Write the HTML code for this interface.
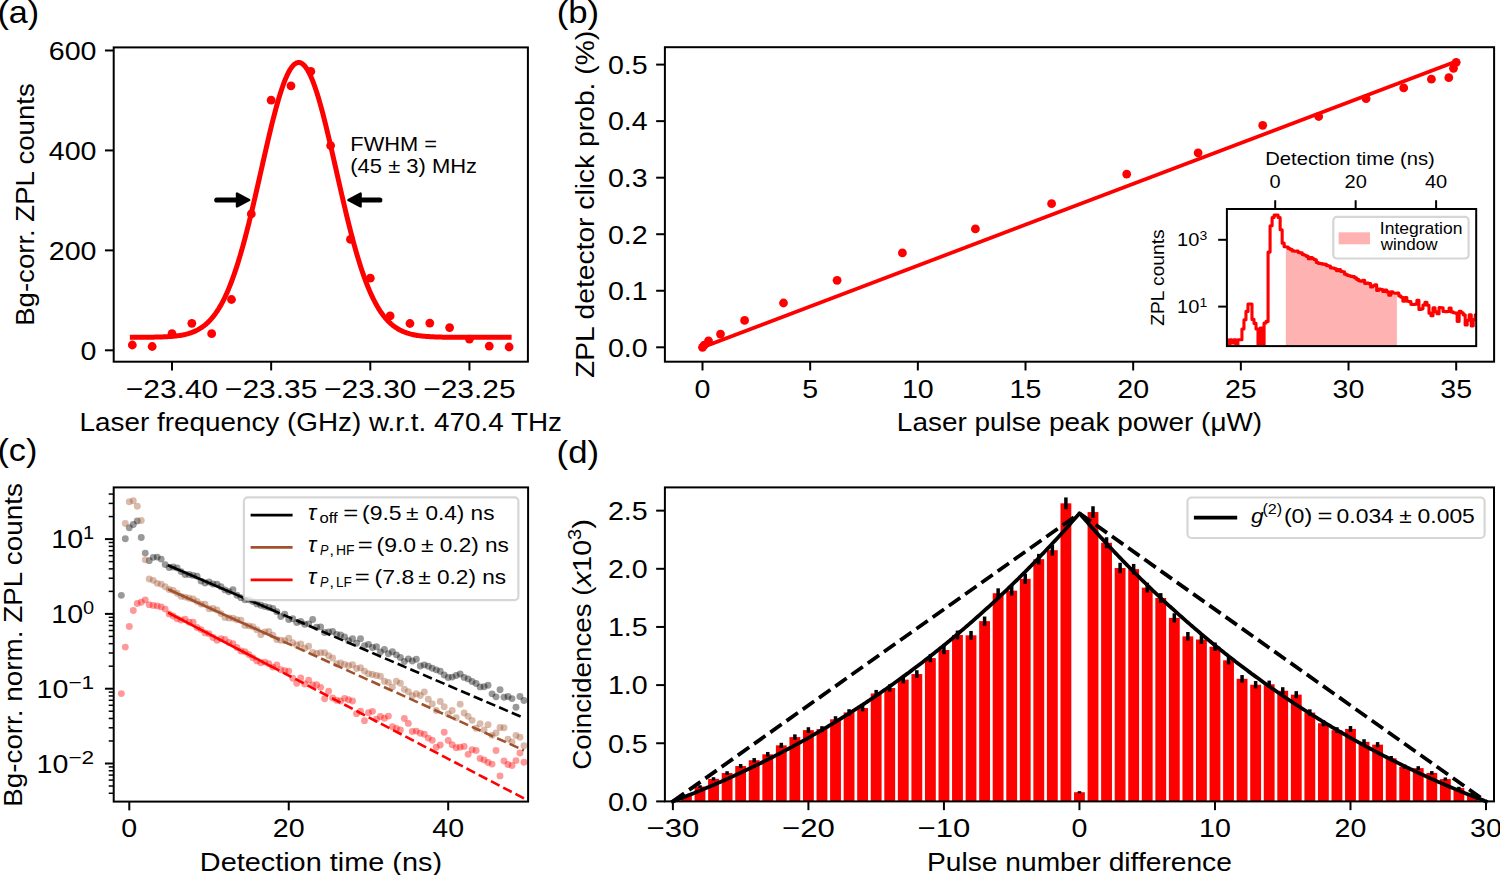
<!DOCTYPE html>
<html><head><meta charset="utf-8"><title>Figure</title><style>html,body{margin:0;padding:0;background:#fff;}svg{display:block;}text{font-family:"Liberation Sans",sans-serif;}</style></head><body>
<svg width="1500" height="875" viewBox="0 0 1500 875" font-family="'Liberation Sans', sans-serif">
<rect width="1500" height="875" fill="#fff"/>
<clipPath id="ca"><rect x="113.7" y="47.4" width="414.2" height="314.3"/></clipPath>
<polyline points="132.34,337.29 133.60,337.29 134.85,337.29 136.11,337.28 137.36,337.28 138.62,337.28 139.88,337.27 141.13,337.27 142.39,337.26 143.64,337.25 144.90,337.24 146.15,337.24 147.41,337.22 148.67,337.21 149.92,337.20 151.18,337.18 152.43,337.17 153.69,337.15 154.95,337.12 156.20,337.10 157.46,337.07 158.71,337.04 159.97,337.00 161.23,336.96 162.48,336.92 163.74,336.87 164.99,336.82 166.25,336.75 167.51,336.68 168.76,336.61 170.02,336.52 171.27,336.43 172.53,336.32 173.78,336.21 175.04,336.08 176.30,335.94 177.55,335.78 178.81,335.61 180.06,335.42 181.32,335.21 182.58,334.98 183.83,334.72 185.09,334.45 186.34,334.15 187.60,333.82 188.86,333.46 190.11,333.06 191.37,332.64 192.62,332.17 193.88,331.67 195.13,331.12 196.39,330.53 197.65,329.89 198.90,329.19 200.16,328.45 201.41,327.64 202.67,326.77 203.93,325.84 205.18,324.84 206.44,323.77 207.69,322.62 208.95,321.39 210.21,320.08 211.46,318.68 212.72,317.19 213.97,315.61 215.23,313.93 216.49,312.14 217.74,310.25 219.00,308.25 220.25,306.13 221.51,303.90 222.76,301.55 224.02,299.08 225.28,296.48 226.53,293.75 227.79,290.89 229.04,287.90 230.30,284.77 231.56,281.51 232.81,278.12 234.07,274.59 235.32,270.92 236.58,267.11 237.84,263.17 239.09,259.09 240.35,254.89 241.60,250.55 242.86,246.09 244.12,241.50 245.37,236.80 246.63,231.98 247.88,227.05 249.14,222.03 250.39,216.90 251.65,211.69 252.91,206.41 254.16,201.05 255.42,195.63 256.67,190.16 257.93,184.64 259.19,179.10 260.44,173.54 261.70,167.97 262.95,162.41 264.21,156.87 265.47,151.36 266.72,145.89 267.98,140.49 269.23,135.16 270.49,129.91 271.74,124.77 273.00,119.74 274.26,114.84 275.51,110.08 276.77,105.48 278.02,101.05 279.28,96.81 280.54,92.76 281.79,88.92 283.05,85.30 284.30,81.91 285.56,78.77 286.82,75.88 288.07,73.25 289.33,70.90 290.58,68.82 291.84,67.03 293.10,65.53 294.35,64.32 295.61,63.42 296.86,62.82 298.12,62.52 299.37,62.53 300.63,62.85 301.89,63.48 303.14,64.40 304.40,65.63 305.65,67.15 306.91,68.96 308.17,71.06 309.42,73.44 310.68,76.09 311.93,79.00 313.19,82.16 314.45,85.56 315.70,89.20 316.96,93.05 318.21,97.11 319.47,101.37 320.72,105.82 321.98,110.43 323.24,115.20 324.49,120.11 325.75,125.14 327.00,130.30 328.26,135.55 329.52,140.89 330.77,146.30 332.03,151.77 333.28,157.28 334.54,162.83 335.80,168.39 337.05,173.95 338.31,179.51 339.56,185.05 340.82,190.56 342.08,196.03 343.33,201.45 344.59,206.80 345.84,212.09 347.10,217.29 348.35,222.40 349.61,227.42 350.87,232.34 352.12,237.15 353.38,241.85 354.63,246.42 355.89,250.88 357.15,255.20 358.40,259.40 359.66,263.47 360.91,267.40 362.17,271.19 363.43,274.85 364.68,278.38 365.94,281.76 367.19,285.01 368.45,288.13 369.71,291.11 370.96,293.96 372.22,296.67 373.47,299.26 374.73,301.73 375.98,304.07 377.24,306.29 378.50,308.40 379.75,310.39 381.01,312.28 382.26,314.05 383.52,315.73 384.78,317.31 386.03,318.79 387.29,320.18 388.54,321.49 389.80,322.71 391.06,323.85 392.31,324.92 393.57,325.91 394.82,326.84 396.08,327.70 397.33,328.50 398.59,329.25 399.85,329.94 401.10,330.57 402.36,331.16 403.61,331.71 404.87,332.21 406.13,332.67 407.38,333.09 408.64,333.48 409.89,333.84 411.15,334.17 412.41,334.47 413.66,334.74 414.92,334.99 416.17,335.22 417.43,335.43 418.69,335.62 419.94,335.79 421.20,335.95 422.45,336.09 423.71,336.22 424.96,336.33 426.22,336.43 427.48,336.53 428.73,336.61 429.99,336.69 431.24,336.76 432.50,336.82 433.76,336.87 435.01,336.92 436.27,336.97 437.52,337.01 438.78,337.04 440.04,337.07 441.29,337.10 442.55,337.13 443.80,337.15 445.06,337.17 446.31,337.18 447.57,337.20 448.83,337.21 450.08,337.23 451.34,337.24 452.59,337.25 453.85,337.25 455.11,337.26 456.36,337.27 457.62,337.27 458.87,337.28 460.13,337.28 461.39,337.28 462.64,337.29 463.90,337.29 465.15,337.29 466.41,337.30 467.67,337.30 468.92,337.30 470.18,337.30 471.43,337.30 472.69,337.30 473.94,337.30 475.20,337.30 476.46,337.30 477.71,337.31 478.97,337.31 480.22,337.31 481.48,337.31 482.74,337.31 483.99,337.31 485.25,337.31 486.50,337.31 487.76,337.31 489.02,337.31 490.27,337.31 491.53,337.31 492.78,337.31 494.04,337.31 495.30,337.31 496.55,337.31 497.81,337.31 499.06,337.31 500.32,337.31 501.57,337.31 502.83,337.31 504.09,337.31 505.34,337.31 506.60,337.31 507.85,337.31 509.11,337.31" fill="none" stroke="#f00" stroke-width="5" stroke-linecap="square" stroke-linejoin="round"/>
<circle cx="132.34" cy="345.00" r="4.4" fill="#f00"/>
<circle cx="152.17" cy="346.50" r="4.4" fill="#f00"/>
<circle cx="172.00" cy="333.70" r="4.4" fill="#f00"/>
<circle cx="191.83" cy="323.30" r="4.4" fill="#f00"/>
<circle cx="211.66" cy="333.70" r="4.4" fill="#f00"/>
<circle cx="231.49" cy="299.50" r="4.4" fill="#f00"/>
<circle cx="251.32" cy="213.90" r="4.4" fill="#f00"/>
<circle cx="271.15" cy="100.20" r="4.4" fill="#f00"/>
<circle cx="290.98" cy="85.80" r="4.4" fill="#f00"/>
<circle cx="310.81" cy="71.40" r="4.4" fill="#f00"/>
<circle cx="330.64" cy="145.60" r="4.4" fill="#f00"/>
<circle cx="350.47" cy="239.40" r="4.4" fill="#f00"/>
<circle cx="370.30" cy="278.20" r="4.4" fill="#f00"/>
<circle cx="390.13" cy="315.90" r="4.4" fill="#f00"/>
<circle cx="409.96" cy="323.50" r="4.4" fill="#f00"/>
<circle cx="429.79" cy="323.10" r="4.4" fill="#f00"/>
<circle cx="449.62" cy="327.60" r="4.4" fill="#f00"/>
<circle cx="469.45" cy="339.10" r="4.4" fill="#f00"/>
<circle cx="489.28" cy="346.10" r="4.4" fill="#f00"/>
<circle cx="509.11" cy="347.00" r="4.4" fill="#f00"/>
<line x1="216.80" y1="200.00" x2="236.00" y2="200.00" stroke="#000" stroke-width="5.2" stroke-linecap="round"/>
<path d="M249.20,200.00 L237.00,193.60 L237.00,206.40 Z" fill="#000" stroke="#000" stroke-width="2.4" stroke-linejoin="round"/>
<line x1="379.80" y1="200.00" x2="361.60" y2="200.00" stroke="#000" stroke-width="5.2" stroke-linecap="round"/>
<path d="M348.40,200.00 L360.60,193.60 L360.60,206.40 Z" fill="#000" stroke="#000" stroke-width="2.4" stroke-linejoin="round"/>
<text x="350.30" y="150.70" font-size="21.00" textLength="86.69" lengthAdjust="spacingAndGlyphs">FWHM =</text>
<text x="350.30" y="173.40" font-size="21.00" textLength="126.80" lengthAdjust="spacingAndGlyphs">(45 ± 3) MHz</text>
<rect x="113.70" y="47.40" width="414.20" height="314.30" fill="none" stroke="#000" stroke-width="2" stroke-linejoin="miter"/>
<line x1="104.95" y1="350.30" x2="113.70" y2="350.30" stroke="#000" stroke-width="2"/>
<text x="96.50" y="359.60" font-size="26.25" text-anchor="end" textLength="15.91" lengthAdjust="spacingAndGlyphs">0</text>
<line x1="104.95" y1="250.37" x2="113.70" y2="250.37" stroke="#000" stroke-width="2"/>
<text x="96.50" y="259.67" font-size="26.25" text-anchor="end" textLength="47.72" lengthAdjust="spacingAndGlyphs">200</text>
<line x1="104.95" y1="150.43" x2="113.70" y2="150.43" stroke="#000" stroke-width="2"/>
<text x="96.50" y="159.73" font-size="26.25" text-anchor="end" textLength="47.72" lengthAdjust="spacingAndGlyphs">400</text>
<line x1="104.95" y1="50.50" x2="113.70" y2="50.50" stroke="#000" stroke-width="2"/>
<text x="96.50" y="59.80" font-size="26.25" text-anchor="end" textLength="47.72" lengthAdjust="spacingAndGlyphs">600</text>
<line x1="172.00" y1="361.70" x2="172.00" y2="370.45" stroke="#000" stroke-width="2"/>
<text x="172.00" y="397.50" font-size="26.25" text-anchor="middle" textLength="92.52" lengthAdjust="spacingAndGlyphs">−23.40</text>
<line x1="271.15" y1="361.70" x2="271.15" y2="370.45" stroke="#000" stroke-width="2"/>
<text x="271.15" y="397.50" font-size="26.25" text-anchor="middle" textLength="92.52" lengthAdjust="spacingAndGlyphs">−23.35</text>
<line x1="370.30" y1="361.70" x2="370.30" y2="370.45" stroke="#000" stroke-width="2"/>
<text x="370.30" y="397.50" font-size="26.25" text-anchor="middle" textLength="92.52" lengthAdjust="spacingAndGlyphs">−23.30</text>
<line x1="469.45" y1="361.70" x2="469.45" y2="370.45" stroke="#000" stroke-width="2"/>
<text x="469.45" y="397.50" font-size="26.25" text-anchor="middle" textLength="92.52" lengthAdjust="spacingAndGlyphs">−23.25</text>
<text x="320.80" y="431.30" font-size="26.25" text-anchor="middle" textLength="482.40" lengthAdjust="spacingAndGlyphs">Laser frequency (GHz) w.r.t. 470.4 THz</text>
<text x="34.10" y="204.55" font-size="26.25" text-anchor="middle" textLength="242.43" lengthAdjust="spacingAndGlyphs" transform="rotate(-90 34.10 204.55)">Bg-corr. ZPL counts</text>
<text x="-2.60" y="23.30" font-size="31.50" textLength="41.79" lengthAdjust="spacingAndGlyphs">(a)</text>
<polyline points="702.50,347.30 1456.20,61.30" fill="none" stroke="#f00" stroke-width="3.75" stroke-linecap="square" stroke-linejoin="round"/>
<circle cx="702.50" cy="347.30" r="4.4" fill="#f00"/>
<circle cx="704.20" cy="345.20" r="4.4" fill="#f00"/>
<circle cx="708.50" cy="340.80" r="4.4" fill="#f00"/>
<circle cx="720.50" cy="334.10" r="4.4" fill="#f00"/>
<circle cx="744.60" cy="320.40" r="4.4" fill="#f00"/>
<circle cx="783.50" cy="303.00" r="4.4" fill="#f00"/>
<circle cx="837.10" cy="280.30" r="4.4" fill="#f00"/>
<circle cx="902.40" cy="252.90" r="4.4" fill="#f00"/>
<circle cx="975.40" cy="228.90" r="4.4" fill="#f00"/>
<circle cx="1051.60" cy="203.70" r="4.4" fill="#f00"/>
<circle cx="1126.70" cy="174.10" r="4.4" fill="#f00"/>
<circle cx="1198.10" cy="152.80" r="4.4" fill="#f00"/>
<circle cx="1262.70" cy="125.30" r="4.4" fill="#f00"/>
<circle cx="1318.70" cy="116.50" r="4.4" fill="#f00"/>
<circle cx="1366.10" cy="98.70" r="4.4" fill="#f00"/>
<circle cx="1403.70" cy="87.90" r="4.4" fill="#f00"/>
<circle cx="1431.40" cy="79.20" r="4.4" fill="#f00"/>
<circle cx="1448.80" cy="77.70" r="4.4" fill="#f00"/>
<circle cx="1453.50" cy="68.30" r="4.4" fill="#f00"/>
<circle cx="1456.20" cy="62.30" r="4.4" fill="#f00"/>
<rect x="664.90" y="47.20" width="829.20" height="314.50" fill="none" stroke="#000" stroke-width="2" stroke-linejoin="miter"/>
<line x1="656.15" y1="347.30" x2="664.90" y2="347.30" stroke="#000" stroke-width="2"/>
<text x="647.70" y="356.60" font-size="26.25" text-anchor="end" textLength="39.76" lengthAdjust="spacingAndGlyphs">0.0</text>
<line x1="656.15" y1="290.76" x2="664.90" y2="290.76" stroke="#000" stroke-width="2"/>
<text x="647.70" y="300.06" font-size="26.25" text-anchor="end" textLength="39.76" lengthAdjust="spacingAndGlyphs">0.1</text>
<line x1="656.15" y1="234.22" x2="664.90" y2="234.22" stroke="#000" stroke-width="2"/>
<text x="647.70" y="243.52" font-size="26.25" text-anchor="end" textLength="39.76" lengthAdjust="spacingAndGlyphs">0.2</text>
<line x1="656.15" y1="177.68" x2="664.90" y2="177.68" stroke="#000" stroke-width="2"/>
<text x="647.70" y="186.98" font-size="26.25" text-anchor="end" textLength="39.76" lengthAdjust="spacingAndGlyphs">0.3</text>
<line x1="656.15" y1="121.14" x2="664.90" y2="121.14" stroke="#000" stroke-width="2"/>
<text x="647.70" y="130.44" font-size="26.25" text-anchor="end" textLength="39.76" lengthAdjust="spacingAndGlyphs">0.4</text>
<line x1="656.15" y1="64.60" x2="664.90" y2="64.60" stroke="#000" stroke-width="2"/>
<text x="647.70" y="73.90" font-size="26.25" text-anchor="end" textLength="39.76" lengthAdjust="spacingAndGlyphs">0.5</text>
<line x1="702.50" y1="361.70" x2="702.50" y2="370.45" stroke="#000" stroke-width="2"/>
<text x="702.50" y="397.50" font-size="26.25" text-anchor="middle" textLength="15.91" lengthAdjust="spacingAndGlyphs">0</text>
<line x1="810.17" y1="361.70" x2="810.17" y2="370.45" stroke="#000" stroke-width="2"/>
<text x="810.17" y="397.50" font-size="26.25" text-anchor="middle" textLength="15.91" lengthAdjust="spacingAndGlyphs">5</text>
<line x1="917.84" y1="361.70" x2="917.84" y2="370.45" stroke="#000" stroke-width="2"/>
<text x="917.84" y="397.50" font-size="26.25" text-anchor="middle" textLength="31.81" lengthAdjust="spacingAndGlyphs">10</text>
<line x1="1025.51" y1="361.70" x2="1025.51" y2="370.45" stroke="#000" stroke-width="2"/>
<text x="1025.51" y="397.50" font-size="26.25" text-anchor="middle" textLength="31.81" lengthAdjust="spacingAndGlyphs">15</text>
<line x1="1133.18" y1="361.70" x2="1133.18" y2="370.45" stroke="#000" stroke-width="2"/>
<text x="1133.18" y="397.50" font-size="26.25" text-anchor="middle" textLength="31.81" lengthAdjust="spacingAndGlyphs">20</text>
<line x1="1240.85" y1="361.70" x2="1240.85" y2="370.45" stroke="#000" stroke-width="2"/>
<text x="1240.85" y="397.50" font-size="26.25" text-anchor="middle" textLength="31.81" lengthAdjust="spacingAndGlyphs">25</text>
<line x1="1348.52" y1="361.70" x2="1348.52" y2="370.45" stroke="#000" stroke-width="2"/>
<text x="1348.52" y="397.50" font-size="26.25" text-anchor="middle" textLength="31.81" lengthAdjust="spacingAndGlyphs">30</text>
<line x1="1456.19" y1="361.70" x2="1456.19" y2="370.45" stroke="#000" stroke-width="2"/>
<text x="1456.19" y="397.50" font-size="26.25" text-anchor="middle" textLength="31.81" lengthAdjust="spacingAndGlyphs">35</text>
<text x="1079.50" y="431.10" font-size="26.25" text-anchor="middle" textLength="365.24" lengthAdjust="spacingAndGlyphs">Laser pulse peak power (μW)</text>
<text x="594.20" y="204.45" font-size="26.25" text-anchor="middle" textLength="347.30" lengthAdjust="spacingAndGlyphs" transform="rotate(-90 594.20 204.45)">ZPL detector click prob. (%)</text>
<text x="556.70" y="22.60" font-size="31.50" textLength="42.45" lengthAdjust="spacingAndGlyphs">(b)</text>
<rect x="1226.9" y="209.0" width="249.29999999999995" height="137.10000000000002" fill="#fff"/>
<clipPath id="ci"><rect x="1226.9" y="209.0" width="249.29999999999995" height="137.10000000000002"/></clipPath>
<g clip-path="url(#ci)">
<polygon points="1285.82,348.1 1285.82,246.70 1286.18,246.70 1286.18,246.98 1288.19,246.98 1288.19,248.50 1290.20,248.50 1290.20,249.49 1292.22,249.49 1292.22,250.91 1294.23,250.91 1294.23,251.22 1296.24,251.22 1296.24,251.03 1298.25,251.03 1298.25,252.51 1300.26,252.51 1300.26,252.91 1302.27,252.91 1302.27,254.48 1304.28,254.48 1304.28,255.26 1306.29,255.26 1306.29,256.34 1308.31,256.34 1308.31,258.79 1310.32,258.79 1310.32,257.60 1312.33,257.60 1312.33,258.80 1314.34,258.80 1314.34,259.71 1316.35,259.71 1316.35,262.44 1318.36,262.44 1318.36,263.39 1320.37,263.39 1320.37,263.58 1322.38,263.58 1322.38,264.13 1324.40,264.13 1324.40,264.39 1326.41,264.39 1326.41,265.59 1328.42,265.59 1328.42,266.01 1330.43,266.01 1330.43,267.88 1332.44,267.88 1332.44,267.99 1334.45,267.99 1334.45,268.82 1336.46,268.82 1336.46,270.59 1338.47,270.59 1338.47,269.51 1340.49,269.51 1340.49,271.37 1342.50,271.37 1342.50,271.73 1344.51,271.73 1344.51,274.13 1346.52,274.13 1346.52,275.12 1348.53,275.12 1348.53,275.68 1350.54,275.68 1350.54,276.37 1352.55,276.37 1352.55,276.64 1354.56,276.64 1354.56,277.83 1356.58,277.83 1356.58,279.34 1358.59,279.34 1358.59,280.74 1360.60,280.74 1360.60,281.22 1362.61,281.22 1362.61,280.24 1364.62,280.24 1364.62,283.35 1366.63,283.35 1366.63,283.00 1368.64,283.00 1368.64,283.63 1370.65,283.63 1370.65,286.97 1372.67,286.97 1372.67,285.82 1374.68,285.82 1374.68,284.89 1376.69,284.89 1376.69,290.56 1378.70,290.56 1378.70,288.93 1380.71,288.93 1380.71,289.45 1382.72,289.45 1382.72,291.46 1384.73,291.46 1384.73,290.12 1386.74,290.12 1386.74,291.90 1388.76,291.90 1388.76,295.26 1390.77,295.26 1390.77,291.90 1392.78,291.90 1392.78,292.97 1394.79,292.97 1394.79,293.20 1396.80,293.20 1396.80,292.95 1396.92,292.95 1396.92,348.1" fill="#f00" fill-opacity="0.3" stroke="none"/>
<polyline points="1223.83,339.70 1225.84,339.70 1225.84,339.70 1227.86,339.70 1227.86,389.65 1229.87,389.65 1229.87,339.70 1231.88,339.70 1231.88,343.03 1233.89,343.03 1233.89,339.70 1235.90,339.70 1235.90,389.65 1237.91,389.65 1237.91,339.70 1239.92,339.70 1239.92,339.70 1241.93,339.70 1241.93,329.04 1243.95,329.04 1243.95,319.72 1245.96,319.72 1245.96,311.39 1247.97,311.39 1247.97,304.07 1249.98,304.07 1249.98,304.07 1251.99,304.07 1251.99,319.39 1254.00,319.39 1254.00,323.38 1256.01,323.38 1256.01,329.04 1258.02,329.04 1258.02,389.65 1260.04,389.65 1260.04,328.05 1262.05,328.05 1262.05,389.65 1264.06,389.65 1264.06,323.05 1266.07,323.05 1266.07,321.38 1268.08,321.38 1268.08,252.12 1270.09,252.12 1270.09,225.81 1272.10,225.81 1272.10,217.49 1274.11,217.49 1274.11,215.16 1276.13,215.16 1276.13,215.16 1278.14,215.16 1278.14,217.49 1280.15,217.49 1280.15,229.81 1282.16,229.81 1282.16,243.13 1284.17,243.13 1284.17,246.70 1286.18,246.70 1286.18,246.98 1288.19,246.98 1288.19,248.50 1290.20,248.50 1290.20,249.49 1292.22,249.49 1292.22,250.91 1294.23,250.91 1294.23,251.22 1296.24,251.22 1296.24,251.03 1298.25,251.03 1298.25,252.51 1300.26,252.51 1300.26,252.91 1302.27,252.91 1302.27,254.48 1304.28,254.48 1304.28,255.26 1306.29,255.26 1306.29,256.34 1308.31,256.34 1308.31,258.79 1310.32,258.79 1310.32,257.60 1312.33,257.60 1312.33,258.80 1314.34,258.80 1314.34,259.71 1316.35,259.71 1316.35,262.44 1318.36,262.44 1318.36,263.39 1320.37,263.39 1320.37,263.58 1322.38,263.58 1322.38,264.13 1324.40,264.13 1324.40,264.39 1326.41,264.39 1326.41,265.59 1328.42,265.59 1328.42,266.01 1330.43,266.01 1330.43,267.88 1332.44,267.88 1332.44,267.99 1334.45,267.99 1334.45,268.82 1336.46,268.82 1336.46,270.59 1338.47,270.59 1338.47,269.51 1340.49,269.51 1340.49,271.37 1342.50,271.37 1342.50,271.73 1344.51,271.73 1344.51,274.13 1346.52,274.13 1346.52,275.12 1348.53,275.12 1348.53,275.68 1350.54,275.68 1350.54,276.37 1352.55,276.37 1352.55,276.64 1354.56,276.64 1354.56,277.83 1356.58,277.83 1356.58,279.34 1358.59,279.34 1358.59,280.74 1360.60,280.74 1360.60,281.22 1362.61,281.22 1362.61,280.24 1364.62,280.24 1364.62,283.35 1366.63,283.35 1366.63,283.00 1368.64,283.00 1368.64,283.63 1370.65,283.63 1370.65,286.97 1372.67,286.97 1372.67,285.82 1374.68,285.82 1374.68,284.89 1376.69,284.89 1376.69,290.56 1378.70,290.56 1378.70,288.93 1380.71,288.93 1380.71,289.45 1382.72,289.45 1382.72,291.46 1384.73,291.46 1384.73,290.12 1386.74,290.12 1386.74,291.90 1388.76,291.90 1388.76,295.26 1390.77,295.26 1390.77,291.90 1392.78,291.90 1392.78,292.97 1394.79,292.97 1394.79,293.20 1396.80,293.20 1396.80,292.95 1398.81,292.95 1398.81,295.91 1400.82,295.91 1400.82,297.20 1402.83,297.20 1402.83,301.09 1404.85,301.09 1404.85,297.63 1406.86,297.63 1406.86,301.19 1408.87,301.19 1408.87,301.61 1410.88,301.61 1410.88,304.35 1412.89,304.35 1412.89,304.43 1414.90,304.43 1414.90,304.12 1416.91,304.12 1416.91,300.18 1418.92,300.18 1418.92,309.57 1420.94,309.57 1420.94,308.85 1422.95,308.85 1422.95,304.96 1424.96,304.96 1424.96,302.26 1426.97,302.26 1426.97,305.32 1428.98,305.32 1428.98,313.17 1430.99,313.17 1430.99,315.76 1433.00,315.76 1433.00,307.84 1435.01,307.84 1435.01,311.82 1437.03,311.82 1437.03,313.68 1439.04,313.68 1439.04,307.65 1441.05,307.65 1441.05,307.77 1443.06,307.77 1443.06,311.41 1445.07,311.41 1445.07,311.66 1447.08,311.66 1447.08,311.55 1449.09,311.55 1449.09,308.03 1451.10,308.03 1451.10,311.90 1453.12,311.90 1453.12,312.73 1455.13,312.73 1455.13,313.08 1457.14,313.08 1457.14,321.34 1459.15,321.34 1459.15,311.21 1461.16,311.21 1461.16,312.82 1463.17,312.82 1463.17,314.84 1465.18,314.84 1465.18,325.02 1467.19,325.02 1467.19,320.22 1469.21,320.22 1469.21,314.70 1471.22,314.70 1471.22,325.85 1473.23,325.85 1473.23,319.59 1475.24,319.59 1475.24,314.90 1477.25,314.90" fill="none" stroke="#f00" stroke-width="3.1" stroke-linecap="butt" stroke-linejoin="round"/>
</g>
<rect x="1226.90" y="209.00" width="249.30" height="137.10" fill="none" stroke="#000" stroke-width="2" stroke-linejoin="miter"/>
<line x1="1275.20" y1="200.25" x2="1275.20" y2="209.00" stroke="#000" stroke-width="2"/>
<text x="1275.20" y="187.80" font-size="18.38" text-anchor="middle" textLength="11.13" lengthAdjust="spacingAndGlyphs">0</text>
<line x1="1355.65" y1="200.25" x2="1355.65" y2="209.00" stroke="#000" stroke-width="2"/>
<text x="1355.65" y="187.80" font-size="18.38" text-anchor="middle" textLength="22.27" lengthAdjust="spacingAndGlyphs">20</text>
<line x1="1436.10" y1="200.25" x2="1436.10" y2="209.00" stroke="#000" stroke-width="2"/>
<text x="1436.10" y="187.80" font-size="18.38" text-anchor="middle" textLength="22.27" lengthAdjust="spacingAndGlyphs">40</text>
<text x="1350.05" y="165.10" font-size="18.38" text-anchor="middle" textLength="169.54" lengthAdjust="spacingAndGlyphs">Detection time (ns)</text>
<line x1="1218.15" y1="239.80" x2="1226.90" y2="239.80" stroke="#000" stroke-width="2"/>
<text x="1177.10" y="246.40" font-size="18.38" textLength="22.27" lengthAdjust="spacingAndGlyphs">10</text>
<text x="1199.40" y="240.00" font-size="12.86" textLength="7.79" lengthAdjust="spacingAndGlyphs">3</text>
<line x1="1218.15" y1="306.60" x2="1226.90" y2="306.60" stroke="#000" stroke-width="2"/>
<text x="1177.10" y="313.20" font-size="18.38" textLength="22.27" lengthAdjust="spacingAndGlyphs">10</text>
<text x="1199.40" y="306.80" font-size="12.86" textLength="7.79" lengthAdjust="spacingAndGlyphs">1</text>
<text x="1163.70" y="277.55" font-size="18.38" text-anchor="middle" textLength="96.34" lengthAdjust="spacingAndGlyphs" transform="rotate(-90 1163.70 277.55)">ZPL counts</text>
<rect x="1333.3" y="216.9" width="135.3" height="41.6" rx="3.5" fill="#fff" fill-opacity="0.8" stroke="#cccccc" stroke-opacity="0.8" stroke-width="2.2"/>
<rect x="1338.6" y="232.3" width="31.4" height="12" fill="#f00" fill-opacity="0.3"/>
<text x="1379.80" y="233.80" font-size="15.75" textLength="82.66" lengthAdjust="spacingAndGlyphs">Integration</text>
<text x="1380.65" y="249.90" font-size="15.75" textLength="56.91" lengthAdjust="spacingAndGlyphs">window</text>
<clipPath id="cc"><rect x="113.7" y="487.4" width="414.40000000000003" height="314.20000000000005"/></clipPath>
<g clip-path="url(#cc)">
<circle cx="121.33" cy="595.35" r="3.45" fill="#000000" fill-opacity="0.4"/>
<circle cx="125.31" cy="538.78" r="3.45" fill="#000000" fill-opacity="0.4"/>
<circle cx="129.30" cy="527.71" r="3.45" fill="#000000" fill-opacity="0.4"/>
<circle cx="133.29" cy="524.45" r="3.45" fill="#000000" fill-opacity="0.4"/>
<circle cx="137.27" cy="520.92" r="3.45" fill="#000000" fill-opacity="0.4"/>
<circle cx="141.26" cy="537.52" r="3.45" fill="#000000" fill-opacity="0.4"/>
<circle cx="145.25" cy="553.09" r="3.45" fill="#000000" fill-opacity="0.4"/>
<circle cx="149.23" cy="560.66" r="3.45" fill="#000000" fill-opacity="0.4"/>
<circle cx="153.22" cy="557.36" r="3.45" fill="#000000" fill-opacity="0.4"/>
<circle cx="157.20" cy="557.08" r="3.45" fill="#000000" fill-opacity="0.4"/>
<circle cx="161.19" cy="559.12" r="3.45" fill="#000000" fill-opacity="0.4"/>
<circle cx="165.18" cy="564.61" r="3.45" fill="#000000" fill-opacity="0.4"/>
<circle cx="169.16" cy="567.45" r="3.45" fill="#000000" fill-opacity="0.4"/>
<circle cx="173.15" cy="567.00" r="3.45" fill="#000000" fill-opacity="0.4"/>
<circle cx="177.14" cy="567.88" r="3.45" fill="#000000" fill-opacity="0.4"/>
<circle cx="181.12" cy="571.62" r="3.45" fill="#000000" fill-opacity="0.4"/>
<circle cx="185.11" cy="574.43" r="3.45" fill="#000000" fill-opacity="0.4"/>
<circle cx="189.09" cy="574.44" r="3.45" fill="#000000" fill-opacity="0.4"/>
<circle cx="193.08" cy="575.42" r="3.45" fill="#000000" fill-opacity="0.4"/>
<circle cx="197.07" cy="576.29" r="3.45" fill="#000000" fill-opacity="0.4"/>
<circle cx="201.05" cy="581.12" r="3.45" fill="#000000" fill-opacity="0.4"/>
<circle cx="205.04" cy="582.93" r="3.45" fill="#000000" fill-opacity="0.4"/>
<circle cx="209.03" cy="581.95" r="3.45" fill="#000000" fill-opacity="0.4"/>
<circle cx="213.01" cy="583.97" r="3.45" fill="#000000" fill-opacity="0.4"/>
<circle cx="217.00" cy="584.26" r="3.45" fill="#000000" fill-opacity="0.4"/>
<circle cx="220.98" cy="586.71" r="3.45" fill="#000000" fill-opacity="0.4"/>
<circle cx="224.97" cy="589.88" r="3.45" fill="#000000" fill-opacity="0.4"/>
<circle cx="228.96" cy="591.82" r="3.45" fill="#000000" fill-opacity="0.4"/>
<circle cx="232.94" cy="589.70" r="3.45" fill="#000000" fill-opacity="0.4"/>
<circle cx="236.93" cy="595.26" r="3.45" fill="#000000" fill-opacity="0.4"/>
<circle cx="240.92" cy="597.64" r="3.45" fill="#000000" fill-opacity="0.4"/>
<circle cx="244.90" cy="599.82" r="3.45" fill="#000000" fill-opacity="0.4"/>
<circle cx="248.89" cy="599.87" r="3.45" fill="#000000" fill-opacity="0.4"/>
<circle cx="252.87" cy="601.51" r="3.45" fill="#000000" fill-opacity="0.4"/>
<circle cx="256.86" cy="603.90" r="3.45" fill="#000000" fill-opacity="0.4"/>
<circle cx="260.85" cy="605.22" r="3.45" fill="#000000" fill-opacity="0.4"/>
<circle cx="264.83" cy="606.43" r="3.45" fill="#000000" fill-opacity="0.4"/>
<circle cx="268.82" cy="607.50" r="3.45" fill="#000000" fill-opacity="0.4"/>
<circle cx="272.81" cy="608.57" r="3.45" fill="#000000" fill-opacity="0.4"/>
<circle cx="276.79" cy="611.64" r="3.45" fill="#000000" fill-opacity="0.4"/>
<circle cx="280.78" cy="616.55" r="3.45" fill="#000000" fill-opacity="0.4"/>
<circle cx="284.76" cy="614.24" r="3.45" fill="#000000" fill-opacity="0.4"/>
<circle cx="288.75" cy="619.46" r="3.45" fill="#000000" fill-opacity="0.4"/>
<circle cx="292.74" cy="618.82" r="3.45" fill="#000000" fill-opacity="0.4"/>
<circle cx="296.72" cy="622.51" r="3.45" fill="#000000" fill-opacity="0.4"/>
<circle cx="300.71" cy="621.38" r="3.45" fill="#000000" fill-opacity="0.4"/>
<circle cx="304.70" cy="624.21" r="3.45" fill="#000000" fill-opacity="0.4"/>
<circle cx="308.68" cy="623.85" r="3.45" fill="#000000" fill-opacity="0.4"/>
<circle cx="312.67" cy="619.54" r="3.45" fill="#000000" fill-opacity="0.4"/>
<circle cx="316.65" cy="627.19" r="3.45" fill="#000000" fill-opacity="0.4"/>
<circle cx="320.64" cy="626.91" r="3.45" fill="#000000" fill-opacity="0.4"/>
<circle cx="324.63" cy="632.55" r="3.45" fill="#000000" fill-opacity="0.4"/>
<circle cx="328.61" cy="631.96" r="3.45" fill="#000000" fill-opacity="0.4"/>
<circle cx="332.60" cy="631.48" r="3.45" fill="#000000" fill-opacity="0.4"/>
<circle cx="336.59" cy="634.44" r="3.45" fill="#000000" fill-opacity="0.4"/>
<circle cx="340.57" cy="634.90" r="3.45" fill="#000000" fill-opacity="0.4"/>
<circle cx="344.56" cy="636.89" r="3.45" fill="#000000" fill-opacity="0.4"/>
<circle cx="348.54" cy="640.70" r="3.45" fill="#000000" fill-opacity="0.4"/>
<circle cx="352.53" cy="638.74" r="3.45" fill="#000000" fill-opacity="0.4"/>
<circle cx="356.52" cy="643.26" r="3.45" fill="#000000" fill-opacity="0.4"/>
<circle cx="360.50" cy="638.76" r="3.45" fill="#000000" fill-opacity="0.4"/>
<circle cx="364.49" cy="645.60" r="3.45" fill="#000000" fill-opacity="0.4"/>
<circle cx="368.48" cy="644.36" r="3.45" fill="#000000" fill-opacity="0.4"/>
<circle cx="372.46" cy="647.44" r="3.45" fill="#000000" fill-opacity="0.4"/>
<circle cx="376.45" cy="646.68" r="3.45" fill="#000000" fill-opacity="0.4"/>
<circle cx="380.43" cy="651.88" r="3.45" fill="#000000" fill-opacity="0.4"/>
<circle cx="384.42" cy="649.50" r="3.45" fill="#000000" fill-opacity="0.4"/>
<circle cx="388.41" cy="653.73" r="3.45" fill="#000000" fill-opacity="0.4"/>
<circle cx="392.39" cy="651.77" r="3.45" fill="#000000" fill-opacity="0.4"/>
<circle cx="396.38" cy="654.84" r="3.45" fill="#000000" fill-opacity="0.4"/>
<circle cx="400.37" cy="657.55" r="3.45" fill="#000000" fill-opacity="0.4"/>
<circle cx="404.35" cy="661.44" r="3.45" fill="#000000" fill-opacity="0.4"/>
<circle cx="408.34" cy="658.89" r="3.45" fill="#000000" fill-opacity="0.4"/>
<circle cx="412.32" cy="661.03" r="3.45" fill="#000000" fill-opacity="0.4"/>
<circle cx="416.31" cy="659.22" r="3.45" fill="#000000" fill-opacity="0.4"/>
<circle cx="420.30" cy="666.03" r="3.45" fill="#000000" fill-opacity="0.4"/>
<circle cx="424.28" cy="664.84" r="3.45" fill="#000000" fill-opacity="0.4"/>
<circle cx="428.27" cy="666.31" r="3.45" fill="#000000" fill-opacity="0.4"/>
<circle cx="432.25" cy="668.30" r="3.45" fill="#000000" fill-opacity="0.4"/>
<circle cx="436.24" cy="669.87" r="3.45" fill="#000000" fill-opacity="0.4"/>
<circle cx="440.23" cy="671.30" r="3.45" fill="#000000" fill-opacity="0.4"/>
<circle cx="444.21" cy="674.93" r="3.45" fill="#000000" fill-opacity="0.4"/>
<circle cx="448.20" cy="677.55" r="3.45" fill="#000000" fill-opacity="0.4"/>
<circle cx="452.19" cy="677.10" r="3.45" fill="#000000" fill-opacity="0.4"/>
<circle cx="456.17" cy="675.50" r="3.45" fill="#000000" fill-opacity="0.4"/>
<circle cx="460.16" cy="674.05" r="3.45" fill="#000000" fill-opacity="0.4"/>
<circle cx="464.15" cy="677.41" r="3.45" fill="#000000" fill-opacity="0.4"/>
<circle cx="468.13" cy="678.91" r="3.45" fill="#000000" fill-opacity="0.4"/>
<circle cx="472.12" cy="681.51" r="3.45" fill="#000000" fill-opacity="0.4"/>
<circle cx="476.10" cy="683.50" r="3.45" fill="#000000" fill-opacity="0.4"/>
<circle cx="480.09" cy="686.90" r="3.45" fill="#000000" fill-opacity="0.4"/>
<circle cx="484.08" cy="686.75" r="3.45" fill="#000000" fill-opacity="0.4"/>
<circle cx="488.06" cy="685.22" r="3.45" fill="#000000" fill-opacity="0.4"/>
<circle cx="492.05" cy="693.87" r="3.45" fill="#000000" fill-opacity="0.4"/>
<circle cx="496.04" cy="696.87" r="3.45" fill="#000000" fill-opacity="0.4"/>
<circle cx="500.02" cy="689.72" r="3.45" fill="#000000" fill-opacity="0.4"/>
<circle cx="504.01" cy="697.26" r="3.45" fill="#000000" fill-opacity="0.4"/>
<circle cx="507.99" cy="696.52" r="3.45" fill="#000000" fill-opacity="0.4"/>
<circle cx="511.98" cy="698.60" r="3.45" fill="#000000" fill-opacity="0.4"/>
<circle cx="515.97" cy="707.30" r="3.45" fill="#000000" fill-opacity="0.4"/>
<circle cx="519.95" cy="696.46" r="3.45" fill="#000000" fill-opacity="0.4"/>
<circle cx="523.94" cy="700.43" r="3.45" fill="#000000" fill-opacity="0.4"/>
<circle cx="125.31" cy="523.43" r="3.45" fill="#a0522d" fill-opacity="0.4"/>
<circle cx="129.30" cy="501.72" r="3.45" fill="#a0522d" fill-opacity="0.4"/>
<circle cx="133.29" cy="500.81" r="3.45" fill="#a0522d" fill-opacity="0.4"/>
<circle cx="137.27" cy="506.24" r="3.45" fill="#a0522d" fill-opacity="0.4"/>
<circle cx="141.26" cy="520.55" r="3.45" fill="#a0522d" fill-opacity="0.4"/>
<circle cx="145.25" cy="559.85" r="3.45" fill="#a0522d" fill-opacity="0.4"/>
<circle cx="149.23" cy="578.98" r="3.45" fill="#a0522d" fill-opacity="0.4"/>
<circle cx="153.22" cy="580.34" r="3.45" fill="#a0522d" fill-opacity="0.4"/>
<circle cx="157.20" cy="583.36" r="3.45" fill="#a0522d" fill-opacity="0.4"/>
<circle cx="161.19" cy="584.26" r="3.45" fill="#a0522d" fill-opacity="0.4"/>
<circle cx="165.18" cy="586.70" r="3.45" fill="#a0522d" fill-opacity="0.4"/>
<circle cx="169.16" cy="589.50" r="3.45" fill="#a0522d" fill-opacity="0.4"/>
<circle cx="173.15" cy="590.53" r="3.45" fill="#a0522d" fill-opacity="0.4"/>
<circle cx="177.14" cy="593.18" r="3.45" fill="#a0522d" fill-opacity="0.4"/>
<circle cx="181.12" cy="596.34" r="3.45" fill="#a0522d" fill-opacity="0.4"/>
<circle cx="185.11" cy="597.11" r="3.45" fill="#a0522d" fill-opacity="0.4"/>
<circle cx="189.09" cy="598.26" r="3.45" fill="#a0522d" fill-opacity="0.4"/>
<circle cx="193.08" cy="599.07" r="3.45" fill="#a0522d" fill-opacity="0.4"/>
<circle cx="197.07" cy="601.42" r="3.45" fill="#a0522d" fill-opacity="0.4"/>
<circle cx="201.05" cy="604.10" r="3.45" fill="#a0522d" fill-opacity="0.4"/>
<circle cx="205.04" cy="604.16" r="3.45" fill="#a0522d" fill-opacity="0.4"/>
<circle cx="209.03" cy="608.81" r="3.45" fill="#a0522d" fill-opacity="0.4"/>
<circle cx="213.01" cy="608.52" r="3.45" fill="#a0522d" fill-opacity="0.4"/>
<circle cx="217.00" cy="609.90" r="3.45" fill="#a0522d" fill-opacity="0.4"/>
<circle cx="220.98" cy="613.59" r="3.45" fill="#a0522d" fill-opacity="0.4"/>
<circle cx="224.97" cy="617.42" r="3.45" fill="#a0522d" fill-opacity="0.4"/>
<circle cx="228.96" cy="618.03" r="3.45" fill="#a0522d" fill-opacity="0.4"/>
<circle cx="232.94" cy="618.30" r="3.45" fill="#a0522d" fill-opacity="0.4"/>
<circle cx="236.93" cy="619.71" r="3.45" fill="#a0522d" fill-opacity="0.4"/>
<circle cx="240.92" cy="620.14" r="3.45" fill="#a0522d" fill-opacity="0.4"/>
<circle cx="244.90" cy="625.38" r="3.45" fill="#a0522d" fill-opacity="0.4"/>
<circle cx="248.89" cy="625.83" r="3.45" fill="#a0522d" fill-opacity="0.4"/>
<circle cx="252.87" cy="626.74" r="3.45" fill="#a0522d" fill-opacity="0.4"/>
<circle cx="256.86" cy="629.67" r="3.45" fill="#a0522d" fill-opacity="0.4"/>
<circle cx="260.85" cy="634.67" r="3.45" fill="#a0522d" fill-opacity="0.4"/>
<circle cx="264.83" cy="631.86" r="3.45" fill="#a0522d" fill-opacity="0.4"/>
<circle cx="268.82" cy="631.37" r="3.45" fill="#a0522d" fill-opacity="0.4"/>
<circle cx="272.81" cy="635.12" r="3.45" fill="#a0522d" fill-opacity="0.4"/>
<circle cx="276.79" cy="639.53" r="3.45" fill="#a0522d" fill-opacity="0.4"/>
<circle cx="280.78" cy="640.19" r="3.45" fill="#a0522d" fill-opacity="0.4"/>
<circle cx="284.76" cy="640.59" r="3.45" fill="#a0522d" fill-opacity="0.4"/>
<circle cx="288.75" cy="638.24" r="3.45" fill="#a0522d" fill-opacity="0.4"/>
<circle cx="292.74" cy="642.77" r="3.45" fill="#a0522d" fill-opacity="0.4"/>
<circle cx="296.72" cy="645.05" r="3.45" fill="#a0522d" fill-opacity="0.4"/>
<circle cx="300.71" cy="643.93" r="3.45" fill="#a0522d" fill-opacity="0.4"/>
<circle cx="304.70" cy="648.26" r="3.45" fill="#a0522d" fill-opacity="0.4"/>
<circle cx="308.68" cy="646.20" r="3.45" fill="#a0522d" fill-opacity="0.4"/>
<circle cx="312.67" cy="652.37" r="3.45" fill="#a0522d" fill-opacity="0.4"/>
<circle cx="316.65" cy="653.49" r="3.45" fill="#a0522d" fill-opacity="0.4"/>
<circle cx="320.64" cy="652.69" r="3.45" fill="#a0522d" fill-opacity="0.4"/>
<circle cx="324.63" cy="652.79" r="3.45" fill="#a0522d" fill-opacity="0.4"/>
<circle cx="328.61" cy="655.77" r="3.45" fill="#a0522d" fill-opacity="0.4"/>
<circle cx="332.60" cy="657.95" r="3.45" fill="#a0522d" fill-opacity="0.4"/>
<circle cx="336.59" cy="663.79" r="3.45" fill="#a0522d" fill-opacity="0.4"/>
<circle cx="340.57" cy="663.03" r="3.45" fill="#a0522d" fill-opacity="0.4"/>
<circle cx="344.56" cy="664.33" r="3.45" fill="#a0522d" fill-opacity="0.4"/>
<circle cx="348.54" cy="665.68" r="3.45" fill="#a0522d" fill-opacity="0.4"/>
<circle cx="352.53" cy="664.75" r="3.45" fill="#a0522d" fill-opacity="0.4"/>
<circle cx="356.52" cy="668.52" r="3.45" fill="#a0522d" fill-opacity="0.4"/>
<circle cx="360.50" cy="667.76" r="3.45" fill="#a0522d" fill-opacity="0.4"/>
<circle cx="364.49" cy="671.09" r="3.45" fill="#a0522d" fill-opacity="0.4"/>
<circle cx="368.48" cy="673.80" r="3.45" fill="#a0522d" fill-opacity="0.4"/>
<circle cx="372.46" cy="674.51" r="3.45" fill="#a0522d" fill-opacity="0.4"/>
<circle cx="376.45" cy="675.52" r="3.45" fill="#a0522d" fill-opacity="0.4"/>
<circle cx="380.43" cy="676.22" r="3.45" fill="#a0522d" fill-opacity="0.4"/>
<circle cx="384.42" cy="681.20" r="3.45" fill="#a0522d" fill-opacity="0.4"/>
<circle cx="388.41" cy="682.36" r="3.45" fill="#a0522d" fill-opacity="0.4"/>
<circle cx="392.39" cy="686.95" r="3.45" fill="#a0522d" fill-opacity="0.4"/>
<circle cx="396.38" cy="681.23" r="3.45" fill="#a0522d" fill-opacity="0.4"/>
<circle cx="400.37" cy="683.32" r="3.45" fill="#a0522d" fill-opacity="0.4"/>
<circle cx="404.35" cy="689.26" r="3.45" fill="#a0522d" fill-opacity="0.4"/>
<circle cx="408.34" cy="691.80" r="3.45" fill="#a0522d" fill-opacity="0.4"/>
<circle cx="412.32" cy="695.69" r="3.45" fill="#a0522d" fill-opacity="0.4"/>
<circle cx="416.31" cy="693.81" r="3.45" fill="#a0522d" fill-opacity="0.4"/>
<circle cx="420.30" cy="695.57" r="3.45" fill="#a0522d" fill-opacity="0.4"/>
<circle cx="424.28" cy="691.98" r="3.45" fill="#a0522d" fill-opacity="0.4"/>
<circle cx="428.27" cy="699.17" r="3.45" fill="#a0522d" fill-opacity="0.4"/>
<circle cx="432.25" cy="703.91" r="3.45" fill="#a0522d" fill-opacity="0.4"/>
<circle cx="436.24" cy="710.55" r="3.45" fill="#a0522d" fill-opacity="0.4"/>
<circle cx="440.23" cy="701.38" r="3.45" fill="#a0522d" fill-opacity="0.4"/>
<circle cx="444.21" cy="706.75" r="3.45" fill="#a0522d" fill-opacity="0.4"/>
<circle cx="448.20" cy="713.91" r="3.45" fill="#a0522d" fill-opacity="0.4"/>
<circle cx="452.19" cy="710.49" r="3.45" fill="#a0522d" fill-opacity="0.4"/>
<circle cx="456.17" cy="717.74" r="3.45" fill="#a0522d" fill-opacity="0.4"/>
<circle cx="460.16" cy="704.15" r="3.45" fill="#a0522d" fill-opacity="0.4"/>
<circle cx="464.15" cy="713.00" r="3.45" fill="#a0522d" fill-opacity="0.4"/>
<circle cx="468.13" cy="716.35" r="3.45" fill="#a0522d" fill-opacity="0.4"/>
<circle cx="472.12" cy="720.37" r="3.45" fill="#a0522d" fill-opacity="0.4"/>
<circle cx="476.10" cy="728.30" r="3.45" fill="#a0522d" fill-opacity="0.4"/>
<circle cx="480.09" cy="723.61" r="3.45" fill="#a0522d" fill-opacity="0.4"/>
<circle cx="484.08" cy="729.92" r="3.45" fill="#a0522d" fill-opacity="0.4"/>
<circle cx="488.06" cy="724.63" r="3.45" fill="#a0522d" fill-opacity="0.4"/>
<circle cx="492.05" cy="735.33" r="3.45" fill="#a0522d" fill-opacity="0.4"/>
<circle cx="496.04" cy="732.99" r="3.45" fill="#a0522d" fill-opacity="0.4"/>
<circle cx="500.02" cy="727.54" r="3.45" fill="#a0522d" fill-opacity="0.4"/>
<circle cx="504.01" cy="727.75" r="3.45" fill="#a0522d" fill-opacity="0.4"/>
<circle cx="507.99" cy="739.08" r="3.45" fill="#a0522d" fill-opacity="0.4"/>
<circle cx="511.98" cy="742.03" r="3.45" fill="#a0522d" fill-opacity="0.4"/>
<circle cx="515.97" cy="735.45" r="3.45" fill="#a0522d" fill-opacity="0.4"/>
<circle cx="519.95" cy="737.32" r="3.45" fill="#a0522d" fill-opacity="0.4"/>
<circle cx="523.94" cy="745.64" r="3.45" fill="#a0522d" fill-opacity="0.4"/>
<circle cx="121.33" cy="693.60" r="3.45" fill="#ff0000" fill-opacity="0.4"/>
<circle cx="125.31" cy="647.09" r="3.45" fill="#ff0000" fill-opacity="0.4"/>
<circle cx="129.30" cy="626.43" r="3.45" fill="#ff0000" fill-opacity="0.4"/>
<circle cx="133.29" cy="610.51" r="3.45" fill="#ff0000" fill-opacity="0.4"/>
<circle cx="137.27" cy="603.44" r="3.45" fill="#ff0000" fill-opacity="0.4"/>
<circle cx="141.26" cy="602.28" r="3.45" fill="#ff0000" fill-opacity="0.4"/>
<circle cx="145.25" cy="599.87" r="3.45" fill="#ff0000" fill-opacity="0.4"/>
<circle cx="149.23" cy="604.64" r="3.45" fill="#ff0000" fill-opacity="0.4"/>
<circle cx="153.22" cy="605.38" r="3.45" fill="#ff0000" fill-opacity="0.4"/>
<circle cx="157.20" cy="605.88" r="3.45" fill="#ff0000" fill-opacity="0.4"/>
<circle cx="161.19" cy="606.91" r="3.45" fill="#ff0000" fill-opacity="0.4"/>
<circle cx="165.18" cy="609.08" r="3.45" fill="#ff0000" fill-opacity="0.4"/>
<circle cx="169.16" cy="613.90" r="3.45" fill="#ff0000" fill-opacity="0.4"/>
<circle cx="173.15" cy="615.97" r="3.45" fill="#ff0000" fill-opacity="0.4"/>
<circle cx="177.14" cy="618.78" r="3.45" fill="#ff0000" fill-opacity="0.4"/>
<circle cx="181.12" cy="620.08" r="3.45" fill="#ff0000" fill-opacity="0.4"/>
<circle cx="185.11" cy="619.26" r="3.45" fill="#ff0000" fill-opacity="0.4"/>
<circle cx="189.09" cy="622.16" r="3.45" fill="#ff0000" fill-opacity="0.4"/>
<circle cx="193.08" cy="622.18" r="3.45" fill="#ff0000" fill-opacity="0.4"/>
<circle cx="197.07" cy="627.45" r="3.45" fill="#ff0000" fill-opacity="0.4"/>
<circle cx="201.05" cy="629.58" r="3.45" fill="#ff0000" fill-opacity="0.4"/>
<circle cx="205.04" cy="632.91" r="3.45" fill="#ff0000" fill-opacity="0.4"/>
<circle cx="209.03" cy="633.68" r="3.45" fill="#ff0000" fill-opacity="0.4"/>
<circle cx="213.01" cy="637.51" r="3.45" fill="#ff0000" fill-opacity="0.4"/>
<circle cx="217.00" cy="640.26" r="3.45" fill="#ff0000" fill-opacity="0.4"/>
<circle cx="220.98" cy="638.61" r="3.45" fill="#ff0000" fill-opacity="0.4"/>
<circle cx="224.97" cy="639.55" r="3.45" fill="#ff0000" fill-opacity="0.4"/>
<circle cx="228.96" cy="642.50" r="3.45" fill="#ff0000" fill-opacity="0.4"/>
<circle cx="232.94" cy="643.81" r="3.45" fill="#ff0000" fill-opacity="0.4"/>
<circle cx="236.93" cy="647.47" r="3.45" fill="#ff0000" fill-opacity="0.4"/>
<circle cx="240.92" cy="650.96" r="3.45" fill="#ff0000" fill-opacity="0.4"/>
<circle cx="244.90" cy="651.79" r="3.45" fill="#ff0000" fill-opacity="0.4"/>
<circle cx="248.89" cy="654.52" r="3.45" fill="#ff0000" fill-opacity="0.4"/>
<circle cx="252.87" cy="657.76" r="3.45" fill="#ff0000" fill-opacity="0.4"/>
<circle cx="256.86" cy="660.88" r="3.45" fill="#ff0000" fill-opacity="0.4"/>
<circle cx="260.85" cy="662.69" r="3.45" fill="#ff0000" fill-opacity="0.4"/>
<circle cx="264.83" cy="662.08" r="3.45" fill="#ff0000" fill-opacity="0.4"/>
<circle cx="268.82" cy="663.79" r="3.45" fill="#ff0000" fill-opacity="0.4"/>
<circle cx="272.81" cy="667.08" r="3.45" fill="#ff0000" fill-opacity="0.4"/>
<circle cx="276.79" cy="665.01" r="3.45" fill="#ff0000" fill-opacity="0.4"/>
<circle cx="280.78" cy="669.71" r="3.45" fill="#ff0000" fill-opacity="0.4"/>
<circle cx="284.76" cy="670.74" r="3.45" fill="#ff0000" fill-opacity="0.4"/>
<circle cx="288.75" cy="671.11" r="3.45" fill="#ff0000" fill-opacity="0.4"/>
<circle cx="292.74" cy="678.19" r="3.45" fill="#ff0000" fill-opacity="0.4"/>
<circle cx="296.72" cy="683.30" r="3.45" fill="#ff0000" fill-opacity="0.4"/>
<circle cx="300.71" cy="677.99" r="3.45" fill="#ff0000" fill-opacity="0.4"/>
<circle cx="304.70" cy="683.98" r="3.45" fill="#ff0000" fill-opacity="0.4"/>
<circle cx="308.68" cy="680.14" r="3.45" fill="#ff0000" fill-opacity="0.4"/>
<circle cx="312.67" cy="684.92" r="3.45" fill="#ff0000" fill-opacity="0.4"/>
<circle cx="316.65" cy="684.74" r="3.45" fill="#ff0000" fill-opacity="0.4"/>
<circle cx="320.64" cy="687.37" r="3.45" fill="#ff0000" fill-opacity="0.4"/>
<circle cx="324.63" cy="698.68" r="3.45" fill="#ff0000" fill-opacity="0.4"/>
<circle cx="328.61" cy="691.23" r="3.45" fill="#ff0000" fill-opacity="0.4"/>
<circle cx="332.60" cy="697.97" r="3.45" fill="#ff0000" fill-opacity="0.4"/>
<circle cx="336.59" cy="700.23" r="3.45" fill="#ff0000" fill-opacity="0.4"/>
<circle cx="340.57" cy="701.01" r="3.45" fill="#ff0000" fill-opacity="0.4"/>
<circle cx="344.56" cy="698.35" r="3.45" fill="#ff0000" fill-opacity="0.4"/>
<circle cx="348.54" cy="699.69" r="3.45" fill="#ff0000" fill-opacity="0.4"/>
<circle cx="352.53" cy="700.96" r="3.45" fill="#ff0000" fill-opacity="0.4"/>
<circle cx="356.52" cy="713.63" r="3.45" fill="#ff0000" fill-opacity="0.4"/>
<circle cx="360.50" cy="711.14" r="3.45" fill="#ff0000" fill-opacity="0.4"/>
<circle cx="364.49" cy="720.66" r="3.45" fill="#ff0000" fill-opacity="0.4"/>
<circle cx="368.48" cy="712.72" r="3.45" fill="#ff0000" fill-opacity="0.4"/>
<circle cx="372.46" cy="711.37" r="3.45" fill="#ff0000" fill-opacity="0.4"/>
<circle cx="376.45" cy="719.32" r="3.45" fill="#ff0000" fill-opacity="0.4"/>
<circle cx="380.43" cy="716.43" r="3.45" fill="#ff0000" fill-opacity="0.4"/>
<circle cx="384.42" cy="718.20" r="3.45" fill="#ff0000" fill-opacity="0.4"/>
<circle cx="388.41" cy="716.11" r="3.45" fill="#ff0000" fill-opacity="0.4"/>
<circle cx="392.39" cy="726.77" r="3.45" fill="#ff0000" fill-opacity="0.4"/>
<circle cx="396.38" cy="728.56" r="3.45" fill="#ff0000" fill-opacity="0.4"/>
<circle cx="400.37" cy="729.95" r="3.45" fill="#ff0000" fill-opacity="0.4"/>
<circle cx="404.35" cy="718.44" r="3.45" fill="#ff0000" fill-opacity="0.4"/>
<circle cx="408.34" cy="723.41" r="3.45" fill="#ff0000" fill-opacity="0.4"/>
<circle cx="412.32" cy="731.49" r="3.45" fill="#ff0000" fill-opacity="0.4"/>
<circle cx="416.31" cy="731.12" r="3.45" fill="#ff0000" fill-opacity="0.4"/>
<circle cx="420.30" cy="733.25" r="3.45" fill="#ff0000" fill-opacity="0.4"/>
<circle cx="424.28" cy="734.23" r="3.45" fill="#ff0000" fill-opacity="0.4"/>
<circle cx="428.27" cy="738.08" r="3.45" fill="#ff0000" fill-opacity="0.4"/>
<circle cx="432.25" cy="740.29" r="3.45" fill="#ff0000" fill-opacity="0.4"/>
<circle cx="436.24" cy="747.29" r="3.45" fill="#ff0000" fill-opacity="0.4"/>
<circle cx="440.23" cy="745.04" r="3.45" fill="#ff0000" fill-opacity="0.4"/>
<circle cx="444.21" cy="732.22" r="3.45" fill="#ff0000" fill-opacity="0.4"/>
<circle cx="448.20" cy="740.41" r="3.45" fill="#ff0000" fill-opacity="0.4"/>
<circle cx="452.19" cy="744.68" r="3.45" fill="#ff0000" fill-opacity="0.4"/>
<circle cx="456.17" cy="747.75" r="3.45" fill="#ff0000" fill-opacity="0.4"/>
<circle cx="460.16" cy="747.17" r="3.45" fill="#ff0000" fill-opacity="0.4"/>
<circle cx="464.15" cy="746.42" r="3.45" fill="#ff0000" fill-opacity="0.4"/>
<circle cx="468.13" cy="754.33" r="3.45" fill="#ff0000" fill-opacity="0.4"/>
<circle cx="472.12" cy="749.73" r="3.45" fill="#ff0000" fill-opacity="0.4"/>
<circle cx="476.10" cy="750.51" r="3.45" fill="#ff0000" fill-opacity="0.4"/>
<circle cx="480.09" cy="758.54" r="3.45" fill="#ff0000" fill-opacity="0.4"/>
<circle cx="484.08" cy="759.94" r="3.45" fill="#ff0000" fill-opacity="0.4"/>
<circle cx="488.06" cy="762.54" r="3.45" fill="#ff0000" fill-opacity="0.4"/>
<circle cx="492.05" cy="764.08" r="3.45" fill="#ff0000" fill-opacity="0.4"/>
<circle cx="496.04" cy="750.54" r="3.45" fill="#ff0000" fill-opacity="0.4"/>
<circle cx="500.02" cy="775.91" r="3.45" fill="#ff0000" fill-opacity="0.4"/>
<circle cx="504.01" cy="760.99" r="3.45" fill="#ff0000" fill-opacity="0.4"/>
<circle cx="507.99" cy="764.52" r="3.45" fill="#ff0000" fill-opacity="0.4"/>
<circle cx="511.98" cy="765.45" r="3.45" fill="#ff0000" fill-opacity="0.4"/>
<circle cx="515.97" cy="760.58" r="3.45" fill="#ff0000" fill-opacity="0.4"/>
<circle cx="519.95" cy="753.04" r="3.45" fill="#ff0000" fill-opacity="0.4"/>
<circle cx="523.94" cy="762.19" r="3.45" fill="#ff0000" fill-opacity="0.4"/>
<polyline points="169.16,565.80 270.81,609.40" fill="none" stroke="#000000" stroke-width="2.6" stroke-linecap="square" stroke-linejoin="round"/>
<polyline points="270.81,609.40 523.94,717.97" fill="none" stroke="#000000" stroke-width="2.6" stroke-linecap="butt" stroke-linejoin="round" stroke-dasharray="9.6 4.2"/>
<polyline points="169.16,589.74 270.81,635.76" fill="none" stroke="#a0522d" stroke-width="2.6" stroke-linecap="square" stroke-linejoin="round"/>
<polyline points="270.81,635.76 523.94,750.36" fill="none" stroke="#a0522d" stroke-width="2.6" stroke-linecap="butt" stroke-linejoin="round" stroke-dasharray="9.6 4.2"/>
<polyline points="169.16,613.08 270.81,666.18" fill="none" stroke="#ff0000" stroke-width="2.6" stroke-linecap="square" stroke-linejoin="round"/>
<polyline points="270.81,666.18 523.94,798.41" fill="none" stroke="#ff0000" stroke-width="2.6" stroke-linecap="butt" stroke-linejoin="round" stroke-dasharray="9.6 4.2"/>
</g>
<rect x="113.70" y="487.40" width="414.40" height="314.20" fill="none" stroke="#000" stroke-width="2" stroke-linejoin="miter"/>
<line x1="108.70" y1="793.27" x2="113.70" y2="793.27" stroke="#000" stroke-width="1.5"/>
<line x1="108.70" y1="786.02" x2="113.70" y2="786.02" stroke="#000" stroke-width="1.5"/>
<line x1="108.70" y1="780.09" x2="113.70" y2="780.09" stroke="#000" stroke-width="1.5"/>
<line x1="108.70" y1="775.09" x2="113.70" y2="775.09" stroke="#000" stroke-width="1.5"/>
<line x1="108.70" y1="770.75" x2="113.70" y2="770.75" stroke="#000" stroke-width="1.5"/>
<line x1="108.70" y1="766.92" x2="113.70" y2="766.92" stroke="#000" stroke-width="1.5"/>
<line x1="104.95" y1="763.50" x2="113.70" y2="763.50" stroke="#000" stroke-width="2"/>
<line x1="108.70" y1="740.98" x2="113.70" y2="740.98" stroke="#000" stroke-width="1.5"/>
<line x1="108.70" y1="727.81" x2="113.70" y2="727.81" stroke="#000" stroke-width="1.5"/>
<line x1="108.70" y1="718.47" x2="113.70" y2="718.47" stroke="#000" stroke-width="1.5"/>
<line x1="108.70" y1="711.22" x2="113.70" y2="711.22" stroke="#000" stroke-width="1.5"/>
<line x1="108.70" y1="705.29" x2="113.70" y2="705.29" stroke="#000" stroke-width="1.5"/>
<line x1="108.70" y1="700.29" x2="113.70" y2="700.29" stroke="#000" stroke-width="1.5"/>
<line x1="108.70" y1="695.95" x2="113.70" y2="695.95" stroke="#000" stroke-width="1.5"/>
<line x1="108.70" y1="692.12" x2="113.70" y2="692.12" stroke="#000" stroke-width="1.5"/>
<line x1="104.95" y1="688.70" x2="113.70" y2="688.70" stroke="#000" stroke-width="2"/>
<line x1="108.70" y1="666.18" x2="113.70" y2="666.18" stroke="#000" stroke-width="1.5"/>
<line x1="108.70" y1="653.01" x2="113.70" y2="653.01" stroke="#000" stroke-width="1.5"/>
<line x1="108.70" y1="643.67" x2="113.70" y2="643.67" stroke="#000" stroke-width="1.5"/>
<line x1="108.70" y1="636.42" x2="113.70" y2="636.42" stroke="#000" stroke-width="1.5"/>
<line x1="108.70" y1="630.49" x2="113.70" y2="630.49" stroke="#000" stroke-width="1.5"/>
<line x1="108.70" y1="625.49" x2="113.70" y2="625.49" stroke="#000" stroke-width="1.5"/>
<line x1="108.70" y1="621.15" x2="113.70" y2="621.15" stroke="#000" stroke-width="1.5"/>
<line x1="108.70" y1="617.32" x2="113.70" y2="617.32" stroke="#000" stroke-width="1.5"/>
<line x1="104.95" y1="613.90" x2="113.70" y2="613.90" stroke="#000" stroke-width="2"/>
<line x1="108.70" y1="591.38" x2="113.70" y2="591.38" stroke="#000" stroke-width="1.5"/>
<line x1="108.70" y1="578.21" x2="113.70" y2="578.21" stroke="#000" stroke-width="1.5"/>
<line x1="108.70" y1="568.87" x2="113.70" y2="568.87" stroke="#000" stroke-width="1.5"/>
<line x1="108.70" y1="561.62" x2="113.70" y2="561.62" stroke="#000" stroke-width="1.5"/>
<line x1="108.70" y1="555.69" x2="113.70" y2="555.69" stroke="#000" stroke-width="1.5"/>
<line x1="108.70" y1="550.69" x2="113.70" y2="550.69" stroke="#000" stroke-width="1.5"/>
<line x1="108.70" y1="546.35" x2="113.70" y2="546.35" stroke="#000" stroke-width="1.5"/>
<line x1="108.70" y1="542.52" x2="113.70" y2="542.52" stroke="#000" stroke-width="1.5"/>
<line x1="104.95" y1="539.10" x2="113.70" y2="539.10" stroke="#000" stroke-width="2"/>
<line x1="108.70" y1="516.58" x2="113.70" y2="516.58" stroke="#000" stroke-width="1.5"/>
<line x1="108.70" y1="503.41" x2="113.70" y2="503.41" stroke="#000" stroke-width="1.5"/>
<line x1="108.70" y1="494.07" x2="113.70" y2="494.07" stroke="#000" stroke-width="1.5"/>
<text x="51.25" y="548.30" font-size="26.25" textLength="31.81" lengthAdjust="spacingAndGlyphs">10</text>
<text x="83.07" y="539.30" font-size="18.38" textLength="11.13" lengthAdjust="spacingAndGlyphs">1</text>
<text x="51.25" y="623.10" font-size="26.25" textLength="31.81" lengthAdjust="spacingAndGlyphs">10</text>
<text x="83.07" y="614.10" font-size="18.38" textLength="11.13" lengthAdjust="spacingAndGlyphs">0</text>
<text x="36.59" y="697.90" font-size="26.25" textLength="31.81" lengthAdjust="spacingAndGlyphs">10</text>
<text x="68.40" y="688.90" font-size="18.38" textLength="25.80" lengthAdjust="spacingAndGlyphs">−1</text>
<text x="36.59" y="772.70" font-size="26.25" textLength="31.81" lengthAdjust="spacingAndGlyphs">10</text>
<text x="68.40" y="763.70" font-size="18.38" textLength="25.80" lengthAdjust="spacingAndGlyphs">−2</text>
<line x1="129.30" y1="801.60" x2="129.30" y2="810.35" stroke="#000" stroke-width="2"/>
<text x="129.30" y="837.20" font-size="26.25" text-anchor="middle" textLength="15.91" lengthAdjust="spacingAndGlyphs">0</text>
<line x1="288.75" y1="801.60" x2="288.75" y2="810.35" stroke="#000" stroke-width="2"/>
<text x="288.75" y="837.20" font-size="26.25" text-anchor="middle" textLength="31.81" lengthAdjust="spacingAndGlyphs">20</text>
<line x1="448.20" y1="801.60" x2="448.20" y2="810.35" stroke="#000" stroke-width="2"/>
<text x="448.20" y="837.20" font-size="26.25" text-anchor="middle" textLength="31.81" lengthAdjust="spacingAndGlyphs">40</text>
<text x="320.90" y="871.00" font-size="26.25" text-anchor="middle" textLength="242.20" lengthAdjust="spacingAndGlyphs">Detection time (ns)</text>
<text x="21.60" y="645.00" font-size="26.25" text-anchor="middle" textLength="323.66" lengthAdjust="spacingAndGlyphs" transform="rotate(-90 21.60 645.00)">Bg-corr. norm. ZPL counts</text>
<text x="-2.60" y="461.00" font-size="31.50" textLength="39.90" lengthAdjust="spacingAndGlyphs">(c)</text>
<rect x="243.9" y="497.3" width="274.5" height="102.9" rx="4" fill="#fff" fill-opacity="0.8" stroke="#cccccc" stroke-opacity="0.8" stroke-width="2.2"/>
<line x1="250.60" y1="515.10" x2="292.60" y2="515.10" stroke="#000000" stroke-width="2.8"/>
<text x="308.10" y="520.00" font-size="22.05" font-style="italic">τ</text>
<text x="319.40" y="523.00" font-size="14.70" textLength="18.21" lengthAdjust="spacingAndGlyphs">off</text>
<text x="350.70" y="520.00" font-size="21.00" text-anchor="middle" textLength="15.00" lengthAdjust="spacingAndGlyphs">=</text>
<text x="362.00" y="520.00" font-size="21.00" textLength="39.61" lengthAdjust="spacingAndGlyphs">(9.5</text>
<text x="412.30" y="520.00" font-size="21.00" text-anchor="middle" textLength="12.50" lengthAdjust="spacingAndGlyphs">±</text>
<text x="425.40" y="520.00" font-size="21.00" textLength="69.06" lengthAdjust="spacingAndGlyphs">0.4) ns</text>
<line x1="250.60" y1="547.40" x2="292.60" y2="547.40" stroke="#a0522d" stroke-width="2.8"/>
<text x="308.10" y="552.30" font-size="22.05" font-style="italic">τ</text>
<text x="320.00" y="555.30" font-size="14.70" font-style="italic" textLength="8.44" lengthAdjust="spacingAndGlyphs">P</text>
<text x="329.50" y="555.30" font-size="14.70" textLength="4.45" lengthAdjust="spacingAndGlyphs">,</text>
<text x="336.00" y="555.30" font-size="14.70" textLength="18.58" lengthAdjust="spacingAndGlyphs">HF</text>
<text x="365.20" y="552.30" font-size="21.00" text-anchor="middle" textLength="15.00" lengthAdjust="spacingAndGlyphs">=</text>
<text x="376.50" y="552.30" font-size="21.00" textLength="39.61" lengthAdjust="spacingAndGlyphs">(9.0</text>
<text x="427.30" y="552.30" font-size="21.00" text-anchor="middle" textLength="12.50" lengthAdjust="spacingAndGlyphs">±</text>
<text x="439.80" y="552.30" font-size="21.00" textLength="69.06" lengthAdjust="spacingAndGlyphs">0.2) ns</text>
<line x1="250.60" y1="579.90" x2="292.60" y2="579.90" stroke="#ff0000" stroke-width="2.8"/>
<text x="308.10" y="584.40" font-size="22.05" font-style="italic">τ</text>
<text x="320.00" y="587.40" font-size="14.70" font-style="italic" textLength="8.44" lengthAdjust="spacingAndGlyphs">P</text>
<text x="329.50" y="587.40" font-size="14.70" textLength="4.45" lengthAdjust="spacingAndGlyphs">,</text>
<text x="336.00" y="587.40" font-size="14.70" textLength="15.85" lengthAdjust="spacingAndGlyphs">LF</text>
<text x="362.30" y="584.40" font-size="21.00" text-anchor="middle" textLength="15.00" lengthAdjust="spacingAndGlyphs">=</text>
<text x="374.60" y="584.40" font-size="21.00" textLength="39.61" lengthAdjust="spacingAndGlyphs">(7.8</text>
<text x="424.40" y="584.40" font-size="21.00" text-anchor="middle" textLength="12.50" lengthAdjust="spacingAndGlyphs">±</text>
<text x="437.00" y="584.40" font-size="21.00" textLength="69.06" lengthAdjust="spacingAndGlyphs">0.2) ns</text>
<rect x="681.02" y="795.58" width="10.84" height="5.82" fill="#f00"/>
<rect x="694.57" y="786.51" width="10.84" height="14.89" fill="#f00"/>
<rect x="708.13" y="778.84" width="10.84" height="22.56" fill="#f00"/>
<rect x="721.68" y="773.02" width="10.84" height="28.38" fill="#f00"/>
<rect x="735.23" y="766.04" width="10.84" height="35.36" fill="#f00"/>
<rect x="748.78" y="760.23" width="10.84" height="41.17" fill="#f00"/>
<rect x="762.33" y="754.30" width="10.84" height="47.10" fill="#f00"/>
<rect x="775.89" y="745.34" width="10.84" height="56.06" fill="#f00"/>
<rect x="789.44" y="737.09" width="10.84" height="64.31" fill="#f00"/>
<rect x="802.99" y="730.11" width="10.84" height="71.29" fill="#f00"/>
<rect x="816.54" y="729.06" width="10.84" height="72.34" fill="#f00"/>
<rect x="830.09" y="719.29" width="10.84" height="82.11" fill="#f00"/>
<rect x="843.65" y="712.43" width="10.84" height="88.97" fill="#f00"/>
<rect x="857.20" y="708.01" width="10.84" height="93.39" fill="#f00"/>
<rect x="870.75" y="693.47" width="10.84" height="107.93" fill="#f00"/>
<rect x="884.30" y="688.01" width="10.84" height="113.39" fill="#f00"/>
<rect x="897.85" y="679.63" width="10.84" height="121.77" fill="#f00"/>
<rect x="911.41" y="674.05" width="10.84" height="127.35" fill="#f00"/>
<rect x="924.96" y="658.12" width="10.84" height="143.28" fill="#f00"/>
<rect x="938.51" y="649.98" width="10.84" height="151.42" fill="#f00"/>
<rect x="952.06" y="634.97" width="10.84" height="166.43" fill="#f00"/>
<rect x="965.61" y="635.32" width="10.84" height="166.08" fill="#f00"/>
<rect x="979.17" y="621.13" width="10.84" height="180.26" fill="#f00"/>
<rect x="992.72" y="593.22" width="10.84" height="208.18" fill="#f00"/>
<rect x="1006.27" y="590.66" width="10.84" height="210.74" fill="#f00"/>
<rect x="1019.82" y="578.80" width="10.84" height="222.60" fill="#f00"/>
<rect x="1033.37" y="559.15" width="10.84" height="242.25" fill="#f00"/>
<rect x="1046.93" y="550.19" width="10.84" height="251.21" fill="#f00"/>
<rect x="1060.48" y="503.32" width="10.84" height="298.08" fill="#f00"/>
<rect x="1074.03" y="792.21" width="10.84" height="9.19" fill="#f00"/>
<rect x="1087.58" y="512.05" width="10.84" height="289.35" fill="#f00"/>
<rect x="1101.13" y="542.75" width="10.84" height="258.65" fill="#f00"/>
<rect x="1114.69" y="567.99" width="10.84" height="233.41" fill="#f00"/>
<rect x="1128.24" y="569.15" width="10.84" height="232.25" fill="#f00"/>
<rect x="1141.79" y="587.64" width="10.84" height="213.76" fill="#f00"/>
<rect x="1155.34" y="597.99" width="10.84" height="203.41" fill="#f00"/>
<rect x="1168.89" y="617.88" width="10.84" height="183.52" fill="#f00"/>
<rect x="1182.45" y="636.37" width="10.84" height="165.03" fill="#f00"/>
<rect x="1196.00" y="639.51" width="10.84" height="161.89" fill="#f00"/>
<rect x="1209.55" y="646.72" width="10.84" height="154.68" fill="#f00"/>
<rect x="1223.10" y="660.33" width="10.84" height="141.07" fill="#f00"/>
<rect x="1236.65" y="678.82" width="10.84" height="122.58" fill="#f00"/>
<rect x="1250.21" y="684.75" width="10.84" height="116.65" fill="#f00"/>
<rect x="1263.76" y="684.29" width="10.84" height="117.11" fill="#f00"/>
<rect x="1277.31" y="690.80" width="10.84" height="110.60" fill="#f00"/>
<rect x="1290.86" y="694.64" width="10.84" height="106.76" fill="#f00"/>
<rect x="1304.41" y="712.55" width="10.84" height="88.85" fill="#f00"/>
<rect x="1317.97" y="723.25" width="10.84" height="78.15" fill="#f00"/>
<rect x="1331.52" y="730.11" width="10.84" height="71.29" fill="#f00"/>
<rect x="1345.07" y="728.95" width="10.84" height="72.45" fill="#f00"/>
<rect x="1358.62" y="741.85" width="10.84" height="59.55" fill="#f00"/>
<rect x="1372.17" y="744.65" width="10.84" height="56.75" fill="#f00"/>
<rect x="1385.73" y="758.25" width="10.84" height="43.15" fill="#f00"/>
<rect x="1399.28" y="766.74" width="10.84" height="34.66" fill="#f00"/>
<rect x="1412.83" y="768.14" width="10.84" height="33.26" fill="#f00"/>
<rect x="1426.38" y="772.91" width="10.84" height="28.49" fill="#f00"/>
<rect x="1439.93" y="779.07" width="10.84" height="22.33" fill="#f00"/>
<rect x="1453.49" y="788.03" width="10.84" height="13.37" fill="#f00"/>
<rect x="1467.04" y="793.72" width="10.84" height="7.68" fill="#f00"/>
<line x1="686.44" y1="796.41" x2="686.44" y2="794.76" stroke="#000" stroke-width="3.5"/>
<line x1="699.99" y1="787.83" x2="699.99" y2="785.20" stroke="#000" stroke-width="3.5"/>
<line x1="713.55" y1="780.46" x2="713.55" y2="777.22" stroke="#000" stroke-width="3.5"/>
<line x1="727.10" y1="774.84" x2="727.10" y2="771.21" stroke="#000" stroke-width="3.5"/>
<line x1="740.65" y1="768.07" x2="740.65" y2="764.02" stroke="#000" stroke-width="3.5"/>
<line x1="754.20" y1="762.42" x2="754.20" y2="758.04" stroke="#000" stroke-width="3.5"/>
<line x1="767.75" y1="756.64" x2="767.75" y2="751.96" stroke="#000" stroke-width="3.5"/>
<line x1="781.31" y1="747.90" x2="781.31" y2="742.79" stroke="#000" stroke-width="3.5"/>
<line x1="794.86" y1="739.82" x2="794.86" y2="734.35" stroke="#000" stroke-width="3.5"/>
<line x1="808.41" y1="732.99" x2="808.41" y2="727.23" stroke="#000" stroke-width="3.5"/>
<line x1="821.96" y1="731.96" x2="821.96" y2="726.16" stroke="#000" stroke-width="3.5"/>
<line x1="835.51" y1="722.38" x2="835.51" y2="716.20" stroke="#000" stroke-width="3.5"/>
<line x1="849.07" y1="715.65" x2="849.07" y2="709.21" stroke="#000" stroke-width="3.5"/>
<line x1="862.62" y1="711.31" x2="862.62" y2="704.72" stroke="#000" stroke-width="3.5"/>
<line x1="876.17" y1="697.02" x2="876.17" y2="689.93" stroke="#000" stroke-width="3.5"/>
<line x1="889.72" y1="691.64" x2="889.72" y2="684.38" stroke="#000" stroke-width="3.5"/>
<line x1="903.27" y1="683.40" x2="903.27" y2="675.87" stroke="#000" stroke-width="3.5"/>
<line x1="916.83" y1="677.90" x2="916.83" y2="670.20" stroke="#000" stroke-width="3.5"/>
<line x1="930.38" y1="662.20" x2="930.38" y2="654.04" stroke="#000" stroke-width="3.5"/>
<line x1="943.93" y1="654.17" x2="943.93" y2="645.78" stroke="#000" stroke-width="3.5"/>
<line x1="957.48" y1="639.37" x2="957.48" y2="630.58" stroke="#000" stroke-width="3.5"/>
<line x1="971.03" y1="639.72" x2="971.03" y2="630.93" stroke="#000" stroke-width="3.5"/>
<line x1="984.59" y1="625.71" x2="984.59" y2="616.56" stroke="#000" stroke-width="3.5"/>
<line x1="998.14" y1="598.14" x2="998.14" y2="588.30" stroke="#000" stroke-width="3.5"/>
<line x1="1011.69" y1="595.62" x2="1011.69" y2="585.71" stroke="#000" stroke-width="3.5"/>
<line x1="1025.24" y1="583.89" x2="1025.24" y2="573.71" stroke="#000" stroke-width="3.5"/>
<line x1="1038.79" y1="564.46" x2="1038.79" y2="553.84" stroke="#000" stroke-width="3.5"/>
<line x1="1052.35" y1="555.60" x2="1052.35" y2="544.79" stroke="#000" stroke-width="3.5"/>
<line x1="1065.90" y1="509.21" x2="1065.90" y2="497.44" stroke="#000" stroke-width="3.5"/>
<line x1="1079.45" y1="793.25" x2="1079.45" y2="791.18" stroke="#000" stroke-width="3.5"/>
<line x1="1093.00" y1="517.85" x2="1093.00" y2="506.24" stroke="#000" stroke-width="3.5"/>
<line x1="1106.55" y1="548.23" x2="1106.55" y2="537.26" stroke="#000" stroke-width="3.5"/>
<line x1="1120.11" y1="573.20" x2="1120.11" y2="562.78" stroke="#000" stroke-width="3.5"/>
<line x1="1133.66" y1="574.35" x2="1133.66" y2="563.95" stroke="#000" stroke-width="3.5"/>
<line x1="1147.21" y1="592.63" x2="1147.21" y2="582.65" stroke="#000" stroke-width="3.5"/>
<line x1="1160.76" y1="602.86" x2="1160.76" y2="593.13" stroke="#000" stroke-width="3.5"/>
<line x1="1174.31" y1="622.50" x2="1174.31" y2="613.26" stroke="#000" stroke-width="3.5"/>
<line x1="1187.87" y1="640.75" x2="1187.87" y2="631.99" stroke="#000" stroke-width="3.5"/>
<line x1="1201.42" y1="643.85" x2="1201.42" y2="635.17" stroke="#000" stroke-width="3.5"/>
<line x1="1214.97" y1="650.96" x2="1214.97" y2="642.48" stroke="#000" stroke-width="3.5"/>
<line x1="1228.52" y1="664.38" x2="1228.52" y2="656.28" stroke="#000" stroke-width="3.5"/>
<line x1="1242.07" y1="682.60" x2="1242.07" y2="675.04" stroke="#000" stroke-width="3.5"/>
<line x1="1255.63" y1="688.43" x2="1255.63" y2="681.07" stroke="#000" stroke-width="3.5"/>
<line x1="1269.18" y1="687.98" x2="1269.18" y2="680.60" stroke="#000" stroke-width="3.5"/>
<line x1="1282.73" y1="694.39" x2="1282.73" y2="687.21" stroke="#000" stroke-width="3.5"/>
<line x1="1296.28" y1="698.16" x2="1296.28" y2="691.11" stroke="#000" stroke-width="3.5"/>
<line x1="1309.83" y1="715.76" x2="1309.83" y2="709.33" stroke="#000" stroke-width="3.5"/>
<line x1="1323.39" y1="726.26" x2="1323.39" y2="720.23" stroke="#000" stroke-width="3.5"/>
<line x1="1336.94" y1="732.99" x2="1336.94" y2="727.23" stroke="#000" stroke-width="3.5"/>
<line x1="1350.49" y1="731.85" x2="1350.49" y2="726.04" stroke="#000" stroke-width="3.5"/>
<line x1="1364.04" y1="744.49" x2="1364.04" y2="739.22" stroke="#000" stroke-width="3.5"/>
<line x1="1377.59" y1="747.21" x2="1377.59" y2="742.08" stroke="#000" stroke-width="3.5"/>
<line x1="1391.15" y1="760.49" x2="1391.15" y2="756.01" stroke="#000" stroke-width="3.5"/>
<line x1="1404.70" y1="768.75" x2="1404.70" y2="764.73" stroke="#000" stroke-width="3.5"/>
<line x1="1418.25" y1="770.11" x2="1418.25" y2="766.17" stroke="#000" stroke-width="3.5"/>
<line x1="1431.80" y1="774.73" x2="1431.80" y2="771.09" stroke="#000" stroke-width="3.5"/>
<line x1="1445.35" y1="780.68" x2="1445.35" y2="777.46" stroke="#000" stroke-width="3.5"/>
<line x1="1458.91" y1="789.27" x2="1458.91" y2="786.78" stroke="#000" stroke-width="3.5"/>
<line x1="1472.46" y1="794.67" x2="1472.46" y2="792.78" stroke="#000" stroke-width="3.5"/>
<polyline points="672.89,801.40 1079.45,513.32" fill="none" stroke="#000" stroke-width="3.75" stroke-linecap="butt" stroke-linejoin="round" stroke-dasharray="13.9 6"/>
<polyline points="1079.45,513.32 1486.01,801.40" fill="none" stroke="#000" stroke-width="3.75" stroke-linecap="butt" stroke-linejoin="round" stroke-dasharray="13.9 6"/>
<polyline points="672.89,801.40 674.25,800.88 675.60,800.37 676.96,799.84 678.31,799.32 679.67,798.80 681.02,798.27 682.38,797.74 683.73,797.21 685.09,796.67 686.44,796.14 687.80,795.60 689.15,795.06 690.51,794.51 691.86,793.97 693.22,793.42 694.57,792.87 695.93,792.31 697.28,791.76 698.64,791.20 699.99,790.64 701.35,790.08 702.70,789.52 704.06,788.95 705.41,788.38 706.77,787.81 708.13,787.23 709.48,786.66 710.84,786.08 712.19,785.50 713.55,784.91 714.90,784.33 716.26,783.74 717.61,783.15 718.97,782.56 720.32,781.96 721.68,781.36 723.03,780.76 724.39,780.16 725.74,779.55 727.10,778.95 728.45,778.34 729.81,777.72 731.16,777.11 732.52,776.49 733.87,775.87 735.23,775.25 736.58,774.62 737.94,774.00 739.29,773.37 740.65,772.73 742.01,772.10 743.36,771.46 744.72,770.82 746.07,770.18 747.43,769.53 748.78,768.89 750.14,768.24 751.49,767.58 752.85,766.93 754.20,766.27 755.56,765.61 756.91,764.95 758.27,764.28 759.62,763.62 760.98,762.95 762.33,762.27 763.69,761.60 765.04,760.92 766.40,760.24 767.75,759.55 769.11,758.87 770.46,758.18 771.82,757.49 773.17,756.79 774.53,756.10 775.89,755.40 777.24,754.70 778.60,753.99 779.95,753.28 781.31,752.57 782.66,751.86 784.02,751.15 785.37,750.43 786.73,749.71 788.08,748.98 789.44,748.26 790.79,747.53 792.15,746.80 793.50,746.06 794.86,745.32 796.21,744.58 797.57,743.84 798.92,743.09 800.28,742.35 801.63,741.60 802.99,740.84 804.34,740.08 805.70,739.32 807.05,738.56 808.41,737.80 809.77,737.03 811.12,736.26 812.48,735.48 813.83,734.71 815.19,733.93 816.54,733.14 817.90,732.36 819.25,731.57 820.61,730.78 821.96,729.98 823.32,729.19 824.67,728.39 826.03,727.58 827.38,726.78 828.74,725.97 830.09,725.16 831.45,724.34 832.80,723.52 834.16,722.70 835.51,721.88 836.87,721.05 838.22,720.22 839.58,719.39 840.93,718.55 842.29,717.71 843.65,716.87 845.00,716.03 846.36,715.18 847.71,714.33 849.07,713.47 850.42,712.61 851.78,711.75 853.13,710.89 854.49,710.02 855.84,709.15 857.20,708.28 858.55,707.40 859.91,706.52 861.26,705.64 862.62,704.75 863.97,703.86 865.33,702.97 866.68,702.07 868.04,701.17 869.39,700.27 870.75,699.36 872.10,698.46 873.46,697.54 874.81,696.63 876.17,695.71 877.53,694.79 878.88,693.86 880.24,692.93 881.59,692.00 882.95,691.06 884.30,690.13 885.66,689.18 887.01,688.24 888.37,687.29 889.72,686.34 891.08,685.38 892.43,684.42 893.79,683.46 895.14,682.49 896.50,681.52 897.85,680.55 899.21,679.57 900.56,678.59 901.92,677.61 903.27,676.62 904.63,675.63 905.98,674.63 907.34,673.64 908.69,672.63 910.05,671.63 911.41,670.62 912.76,669.61 914.12,668.59 915.47,667.57 916.83,666.55 918.18,665.52 919.54,664.49 920.89,663.46 922.25,662.42 923.60,661.38 924.96,660.33 926.31,659.28 927.67,658.23 929.02,657.17 930.38,656.11 931.73,655.05 933.09,653.98 934.44,652.91 935.80,651.83 937.15,650.75 938.51,649.67 939.86,648.58 941.22,647.49 942.57,646.40 943.93,645.30 945.29,644.19 946.64,643.09 948.00,641.98 949.35,640.86 950.71,639.74 952.06,638.62 953.42,637.49 954.77,636.36 956.13,635.23 957.48,634.09 958.84,632.95 960.19,631.80 961.55,630.65 962.90,629.50 964.26,628.34 965.61,627.17 966.97,626.01 968.32,624.84 969.68,623.66 971.03,622.48 972.39,621.30 973.74,620.11 975.10,618.92 976.45,617.72 977.81,616.52 979.17,615.32 980.52,614.11 981.88,612.89 983.23,611.68 984.59,610.45 985.94,609.23 987.30,608.00 988.65,606.76 990.01,605.52 991.36,604.28 992.72,603.03 994.07,601.78 995.43,600.52 996.78,599.26 998.14,598.00 999.49,596.73 1000.85,595.45 1002.20,594.17 1003.56,592.89 1004.91,591.60 1006.27,590.31 1007.62,589.01 1008.98,587.71 1010.33,586.40 1011.69,585.09 1013.05,583.77 1014.40,582.45 1015.76,581.13 1017.11,579.80 1018.47,578.47 1019.82,577.13 1021.18,575.78 1022.53,574.43 1023.89,573.08 1025.24,571.72 1026.60,570.36 1027.95,568.99 1029.31,567.62 1030.66,566.24 1032.02,564.86 1033.37,563.48 1034.73,562.08 1036.08,560.69 1037.44,559.29 1038.79,557.88 1040.15,556.47 1041.50,555.05 1042.86,553.63 1044.21,552.21 1045.57,550.77 1046.93,549.34 1048.28,547.90 1049.64,546.45 1050.99,545.00 1052.35,543.54 1053.70,542.08 1055.06,540.62 1056.41,539.14 1057.77,537.67 1059.12,536.19 1060.48,534.70 1061.83,533.21 1063.19,531.71 1064.54,530.21 1065.90,528.70 1067.25,527.18 1068.61,525.67 1069.96,524.14 1071.32,522.61 1072.67,521.08 1074.03,519.54 1075.38,517.99 1076.74,516.44 1078.09,514.89 1079.45,513.32 1080.81,514.89 1082.16,516.44 1083.52,517.99 1084.87,519.54 1086.23,521.08 1087.58,522.61 1088.94,524.14 1090.29,525.67 1091.65,527.18 1093.00,528.70 1094.36,530.21 1095.71,531.71 1097.07,533.21 1098.42,534.70 1099.78,536.19 1101.13,537.67 1102.49,539.14 1103.84,540.62 1105.20,542.08 1106.55,543.54 1107.91,545.00 1109.26,546.45 1110.62,547.90 1111.97,549.34 1113.33,550.77 1114.69,552.21 1116.04,553.63 1117.40,555.05 1118.75,556.47 1120.11,557.88 1121.46,559.29 1122.82,560.69 1124.17,562.08 1125.53,563.48 1126.88,564.86 1128.24,566.24 1129.59,567.62 1130.95,568.99 1132.30,570.36 1133.66,571.72 1135.01,573.08 1136.37,574.43 1137.72,575.78 1139.08,577.13 1140.43,578.47 1141.79,579.80 1143.14,581.13 1144.50,582.45 1145.85,583.77 1147.21,585.09 1148.57,586.40 1149.92,587.71 1151.28,589.01 1152.63,590.31 1153.99,591.60 1155.34,592.89 1156.70,594.17 1158.05,595.45 1159.41,596.73 1160.76,598.00 1162.12,599.26 1163.47,600.52 1164.83,601.78 1166.18,603.03 1167.54,604.28 1168.89,605.52 1170.25,606.76 1171.60,608.00 1172.96,609.23 1174.31,610.45 1175.67,611.68 1177.02,612.89 1178.38,614.11 1179.73,615.32 1181.09,616.52 1182.45,617.72 1183.80,618.92 1185.16,620.11 1186.51,621.30 1187.87,622.48 1189.22,623.66 1190.58,624.84 1191.93,626.01 1193.29,627.17 1194.64,628.34 1196.00,629.50 1197.35,630.65 1198.71,631.80 1200.06,632.95 1201.42,634.09 1202.77,635.23 1204.13,636.36 1205.48,637.49 1206.84,638.62 1208.19,639.74 1209.55,640.86 1210.90,641.98 1212.26,643.09 1213.61,644.19 1214.97,645.30 1216.33,646.40 1217.68,647.49 1219.04,648.58 1220.39,649.67 1221.75,650.75 1223.10,651.83 1224.46,652.91 1225.81,653.98 1227.17,655.05 1228.52,656.11 1229.88,657.17 1231.23,658.23 1232.59,659.28 1233.94,660.33 1235.30,661.38 1236.65,662.42 1238.01,663.46 1239.36,664.49 1240.72,665.52 1242.07,666.55 1243.43,667.57 1244.78,668.59 1246.14,669.61 1247.49,670.62 1248.85,671.63 1250.21,672.63 1251.56,673.64 1252.92,674.63 1254.27,675.63 1255.63,676.62 1256.98,677.61 1258.34,678.59 1259.69,679.57 1261.05,680.55 1262.40,681.52 1263.76,682.49 1265.11,683.46 1266.47,684.42 1267.82,685.38 1269.18,686.34 1270.53,687.29 1271.89,688.24 1273.24,689.18 1274.60,690.13 1275.95,691.06 1277.31,692.00 1278.66,692.93 1280.02,693.86 1281.37,694.79 1282.73,695.71 1284.09,696.63 1285.44,697.54 1286.80,698.46 1288.15,699.36 1289.51,700.27 1290.86,701.17 1292.22,702.07 1293.57,702.97 1294.93,703.86 1296.28,704.75 1297.64,705.64 1298.99,706.52 1300.35,707.40 1301.70,708.28 1303.06,709.15 1304.41,710.02 1305.77,710.89 1307.12,711.75 1308.48,712.61 1309.83,713.47 1311.19,714.33 1312.54,715.18 1313.90,716.03 1315.25,716.87 1316.61,717.71 1317.97,718.55 1319.32,719.39 1320.68,720.22 1322.03,721.05 1323.39,721.88 1324.74,722.70 1326.10,723.52 1327.45,724.34 1328.81,725.16 1330.16,725.97 1331.52,726.78 1332.87,727.58 1334.23,728.39 1335.58,729.19 1336.94,729.98 1338.29,730.78 1339.65,731.57 1341.00,732.36 1342.36,733.14 1343.71,733.93 1345.07,734.71 1346.42,735.48 1347.78,736.26 1349.13,737.03 1350.49,737.80 1351.85,738.56 1353.20,739.32 1354.56,740.08 1355.91,740.84 1357.27,741.60 1358.62,742.35 1359.98,743.09 1361.33,743.84 1362.69,744.58 1364.04,745.32 1365.40,746.06 1366.75,746.80 1368.11,747.53 1369.46,748.26 1370.82,748.98 1372.17,749.71 1373.53,750.43 1374.88,751.15 1376.24,751.86 1377.59,752.57 1378.95,753.28 1380.30,753.99 1381.66,754.70 1383.01,755.40 1384.37,756.10 1385.73,756.79 1387.08,757.49 1388.44,758.18 1389.79,758.87 1391.15,759.55 1392.50,760.24 1393.86,760.92 1395.21,761.60 1396.57,762.27 1397.92,762.95 1399.28,763.62 1400.63,764.28 1401.99,764.95 1403.34,765.61 1404.70,766.27 1406.05,766.93 1407.41,767.58 1408.76,768.24 1410.12,768.89 1411.47,769.53 1412.83,770.18 1414.18,770.82 1415.54,771.46 1416.89,772.10 1418.25,772.73 1419.61,773.37 1420.96,774.00 1422.32,774.62 1423.67,775.25 1425.03,775.87 1426.38,776.49 1427.74,777.11 1429.09,777.72 1430.45,778.34 1431.80,778.95 1433.16,779.55 1434.51,780.16 1435.87,780.76 1437.22,781.36 1438.58,781.96 1439.93,782.56 1441.29,783.15 1442.64,783.74 1444.00,784.33 1445.35,784.91 1446.71,785.50 1448.06,786.08 1449.42,786.66 1450.77,787.23 1452.13,787.81 1453.49,788.38 1454.84,788.95 1456.20,789.52 1457.55,790.08 1458.91,790.64 1460.26,791.20 1461.62,791.76 1462.97,792.31 1464.33,792.87 1465.68,793.42 1467.04,793.97 1468.39,794.51 1469.75,795.06 1471.10,795.60 1472.46,796.14 1473.81,796.67 1475.17,797.21 1476.52,797.74 1477.88,798.27 1479.23,798.80 1480.59,799.32 1481.94,799.84 1483.30,800.37 1484.65,800.88 1486.01,801.40" fill="none" stroke="#000" stroke-width="3.75" stroke-linecap="square" stroke-linejoin="round"/>
<rect x="664.90" y="487.40" width="829.10" height="314.00" fill="none" stroke="#000" stroke-width="2" stroke-linejoin="miter"/>
<line x1="656.15" y1="801.40" x2="664.90" y2="801.40" stroke="#000" stroke-width="2"/>
<text x="647.70" y="810.70" font-size="26.25" text-anchor="end" textLength="39.76" lengthAdjust="spacingAndGlyphs">0.0</text>
<line x1="656.15" y1="743.25" x2="664.90" y2="743.25" stroke="#000" stroke-width="2"/>
<text x="647.70" y="752.55" font-size="26.25" text-anchor="end" textLength="39.76" lengthAdjust="spacingAndGlyphs">0.5</text>
<line x1="656.15" y1="685.10" x2="664.90" y2="685.10" stroke="#000" stroke-width="2"/>
<text x="647.70" y="694.40" font-size="26.25" text-anchor="end" textLength="39.76" lengthAdjust="spacingAndGlyphs">1.0</text>
<line x1="656.15" y1="626.95" x2="664.90" y2="626.95" stroke="#000" stroke-width="2"/>
<text x="647.70" y="636.25" font-size="26.25" text-anchor="end" textLength="39.76" lengthAdjust="spacingAndGlyphs">1.5</text>
<line x1="656.15" y1="568.80" x2="664.90" y2="568.80" stroke="#000" stroke-width="2"/>
<text x="647.70" y="578.10" font-size="26.25" text-anchor="end" textLength="39.76" lengthAdjust="spacingAndGlyphs">2.0</text>
<line x1="656.15" y1="510.65" x2="664.90" y2="510.65" stroke="#000" stroke-width="2"/>
<text x="647.70" y="519.95" font-size="26.25" text-anchor="end" textLength="39.76" lengthAdjust="spacingAndGlyphs">2.5</text>
<line x1="672.89" y1="801.40" x2="672.89" y2="810.15" stroke="#000" stroke-width="2"/>
<text x="672.89" y="836.90" font-size="26.25" text-anchor="middle" textLength="52.76" lengthAdjust="spacingAndGlyphs">−30</text>
<line x1="808.41" y1="801.40" x2="808.41" y2="810.15" stroke="#000" stroke-width="2"/>
<text x="808.41" y="836.90" font-size="26.25" text-anchor="middle" textLength="52.76" lengthAdjust="spacingAndGlyphs">−20</text>
<line x1="943.93" y1="801.40" x2="943.93" y2="810.15" stroke="#000" stroke-width="2"/>
<text x="943.93" y="836.90" font-size="26.25" text-anchor="middle" textLength="52.76" lengthAdjust="spacingAndGlyphs">−10</text>
<line x1="1079.45" y1="801.40" x2="1079.45" y2="810.15" stroke="#000" stroke-width="2"/>
<text x="1079.45" y="836.90" font-size="26.25" text-anchor="middle" textLength="15.91" lengthAdjust="spacingAndGlyphs">0</text>
<line x1="1214.97" y1="801.40" x2="1214.97" y2="810.15" stroke="#000" stroke-width="2"/>
<text x="1214.97" y="836.90" font-size="26.25" text-anchor="middle" textLength="31.81" lengthAdjust="spacingAndGlyphs">10</text>
<line x1="1350.49" y1="801.40" x2="1350.49" y2="810.15" stroke="#000" stroke-width="2"/>
<text x="1350.49" y="836.90" font-size="26.25" text-anchor="middle" textLength="31.81" lengthAdjust="spacingAndGlyphs">20</text>
<line x1="1486.01" y1="801.40" x2="1486.01" y2="810.15" stroke="#000" stroke-width="2"/>
<text x="1486.01" y="836.90" font-size="26.25" text-anchor="middle" textLength="31.81" lengthAdjust="spacingAndGlyphs">30</text>
<text x="1079.45" y="871.00" font-size="26.25" text-anchor="middle" textLength="304.80" lengthAdjust="spacingAndGlyphs">Pulse number difference</text>
<text x="556.60" y="462.80" font-size="31.50" textLength="42.45" lengthAdjust="spacingAndGlyphs">(d)</text>
<g transform="rotate(-90 591.30 769.74)">
<text x="591.30" y="769.74" font-size="26.25" textLength="183.18" lengthAdjust="spacingAndGlyphs">Coincidences (</text>
<text x="774.48" y="769.74" font-size="26.25" font-style="italic" textLength="14.80" lengthAdjust="spacingAndGlyphs">x</text>
<text x="789.28" y="769.74" font-size="26.25" textLength="31.81" lengthAdjust="spacingAndGlyphs">10</text>
<text x="821.09" y="759.74" font-size="18.38" textLength="11.13" lengthAdjust="spacingAndGlyphs">3</text>
<text x="832.22" y="769.74" font-size="26.25" textLength="9.75" lengthAdjust="spacingAndGlyphs">)</text>
</g>
<rect x="1187.5" y="497.5" width="297.1" height="40.5" rx="4" fill="#fff" fill-opacity="0.8" stroke="#cccccc" stroke-opacity="0.8" stroke-width="2.2"/>
<line x1="1193.90" y1="517.70" x2="1237.20" y2="517.70" stroke="#000" stroke-width="3.75"/>
<text x="1251.00" y="523.10" font-size="21.00" font-style="italic" textLength="12.70" lengthAdjust="spacingAndGlyphs">g</text>
<text x="1262.40" y="513.50" font-size="14.70" textLength="19.83" lengthAdjust="spacingAndGlyphs">(2)</text>
<text x="1283.90" y="523.10" font-size="21.00" textLength="28.33" lengthAdjust="spacingAndGlyphs">(0)</text>
<text x="1325.10" y="523.10" font-size="21.00" text-anchor="middle" textLength="15.00" lengthAdjust="spacingAndGlyphs">=</text>
<text x="1336.60" y="523.10" font-size="21.00" textLength="57.26" lengthAdjust="spacingAndGlyphs">0.034</text>
<text x="1405.40" y="523.10" font-size="21.00" text-anchor="middle" textLength="12.50" lengthAdjust="spacingAndGlyphs">±</text>
<text x="1417.60" y="523.10" font-size="21.00" textLength="57.26" lengthAdjust="spacingAndGlyphs">0.005</text>
</svg>
</body></html>
